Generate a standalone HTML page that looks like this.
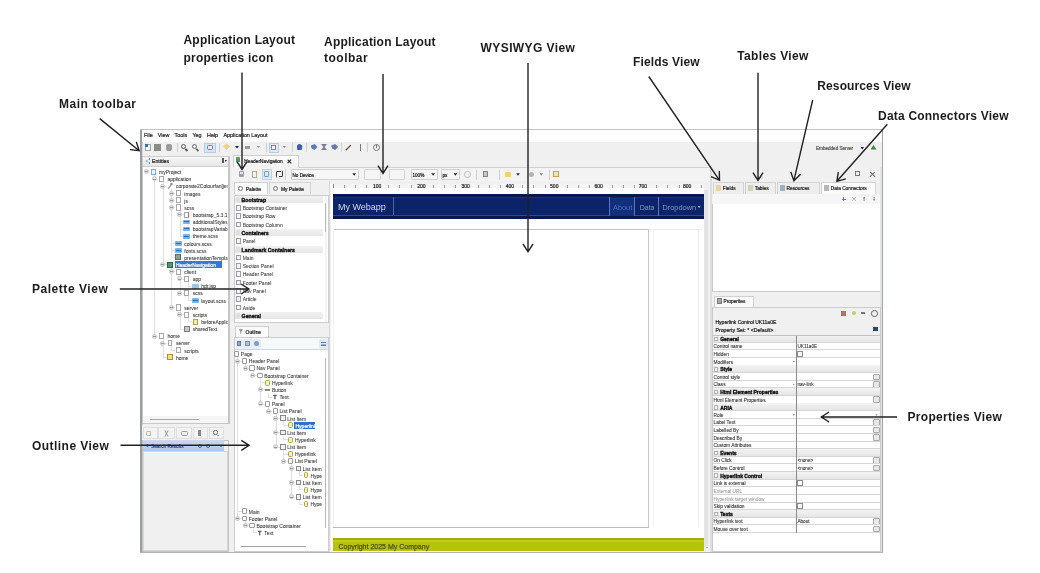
<!DOCTYPE html>
<html><head><meta charset="utf-8"><style>
html,body{margin:0;padding:0}
body{width:1040px;height:573px;background:#fff;position:relative;overflow:hidden;font-family:"Liberation Sans",sans-serif}
.t{position:absolute;white-space:nowrap;line-height:1}
.lab{position:absolute;white-space:nowrap;line-height:1;font-weight:bold;color:#1c1c1c;filter:blur(0.25px)}
</style></head><body>
<div style="position:absolute;left:0;top:0;width:1040px;height:573px;filter:blur(0.3px)">
<div style="position:absolute;left:140px;top:129px;width:743px;height:424px;background:#f0f0f0"></div>
<div style="position:absolute;left:139.8px;top:129px;width:1.8px;height:424px;background:#9a9ea3"></div>
<div style="position:absolute;left:141.6px;top:130px;width:1.2px;height:422px;background:#d6d9dd"></div>
<div style="position:absolute;left:140px;top:129px;width:743px;height:1px;background:#c4c4c4"></div>
<div style="position:absolute;left:882.4px;top:129px;width:1.1px;height:424px;background:#a4a4a4"></div>
<div style="position:absolute;left:140px;top:551.5px;width:743px;height:1.5px;background:#b4b4b4"></div>
<div style="position:absolute;left:141.6px;top:130px;width:740.8px;height:11.8px;background:#fefefe"></div>
<div class="t" style="left:144px;top:133px;font-size:5.4px;color:#242424;-webkit-text-stroke:0.2px currentColor;">File</div>
<div class="t" style="left:157.8px;top:133px;font-size:5.4px;color:#242424;-webkit-text-stroke:0.2px currentColor;">View</div>
<div class="t" style="left:174.5px;top:133px;font-size:5.4px;color:#242424;-webkit-text-stroke:0.2px currentColor;">Tools</div>
<div class="t" style="left:192.5px;top:133px;font-size:5.4px;color:#242424;-webkit-text-stroke:0.2px currentColor;">Yeg</div>
<div class="t" style="left:207px;top:133px;font-size:5.4px;color:#242424;-webkit-text-stroke:0.2px currentColor;">Help</div>
<div class="t" style="left:223.5px;top:133px;font-size:5.4px;color:#242424;-webkit-text-stroke:0.2px currentColor;">Application Layout</div>
<div style="position:absolute;left:144.5px;top:143.5px;width:6px;height:7px;background:#fff;border:0.8px solid #9aa;box-sizing:border-box"></div>
<div style="position:absolute;left:144.5px;top:143.5px;width:3px;height:3px;background:#3d6fb5;"></div>
<div style="position:absolute;left:154px;top:144px;width:6.5px;height:6.5px;background:#8a8c88;"></div>
<div style="position:absolute;left:165.5px;top:144px;width:6.5px;height:6.5px;background:#9a9a9a;border-radius:2px"></div>
<div style="position:absolute;left:176.5px;top:143px;width:0.8px;height:9px;background:#d0d0d0"></div>
<div style="position:absolute;left:181px;top:143.6px;width:5.2px;height:5.2px;background:transparent;border:1.4px solid #555;border-radius:50%;box-sizing:border-box"></div>
<div style="position:absolute;left:185px;top:148.6px;width:3px;height:1.6px;background:#555;transform:rotate(45deg)"></div>
<div style="position:absolute;left:192px;top:143.6px;width:5.2px;height:5.2px;background:transparent;border:1.4px solid #666;border-radius:50%;box-sizing:border-box"></div>
<div style="position:absolute;left:196px;top:148.6px;width:3px;height:1.6px;background:#666;transform:rotate(45deg)"></div>
<div style="position:absolute;left:203.5px;top:142.5px;width:12.5px;height:10px;background:#d6e6f7;border:0.8px solid #b5cde8;box-sizing:border-box"></div>
<div style="position:absolute;left:207.3px;top:144.6px;width:5.6px;height:5.2px;background:#e4eefa;border:1.3px solid #4f86c8;border-radius:1.5px;box-sizing:border-box"></div>
<div style="position:absolute;left:219px;top:143px;width:0.8px;height:9px;background:#d0d0d0"></div>
<div style="position:absolute;left:224px;top:144.2px;width:5.2px;height:5.2px;background:#ecd38a;transform:rotate(45deg)"></div>
<div style="position:absolute;left:235px;top:146px;width:4px;height:2.5px;background:#1a1a5a;clip-path:polygon(0 0,100% 0,50% 100%)"></div>
<div style="position:absolute;left:245px;top:146px;width:5px;height:2.5px;background:#999;"></div>
<div style="position:absolute;left:256.5px;top:146px;width:3.5px;height:2px;background:#999;clip-path:polygon(0 0,100% 0,50% 100%)"></div>
<div style="position:absolute;left:266.4px;top:143px;width:0.8px;height:9px;background:#d0d0d0"></div>
<div style="position:absolute;left:268.5px;top:142.5px;width:10px;height:10px;background:#dde9f7;border:0.8px solid #b5cde8;box-sizing:border-box"></div>
<div style="position:absolute;left:271px;top:144.5px;width:5px;height:5.5px;background:#fff;border:1px solid #5a8fd0;box-sizing:border-box"></div>
<div style="position:absolute;left:282.5px;top:146px;width:3.5px;height:2px;background:#888;clip-path:polygon(0 0,100% 0,50% 100%)"></div>
<div style="position:absolute;left:292px;top:143px;width:0.8px;height:9px;background:#d0d0d0"></div>
<div style="position:absolute;left:296.5px;top:143.5px;width:6px;height:6.5px;background:#3a5ea8;clip-path:polygon(50% 0,100% 40%,85% 100%,15% 100%,0 40%)"></div>
<div style="position:absolute;left:306px;top:143px;width:0.8px;height:9px;background:#d0d0d0"></div>
<div style="position:absolute;left:310.5px;top:144px;width:7px;height:6px;background:#5c7ab5;clip-path:polygon(0 30%,60% 0,100% 50%,60% 100%,20% 80%)"></div>
<div style="position:absolute;left:321px;top:144px;width:6px;height:6px;background:#7a7f90;clip-path:polygon(0 0,100% 0,60% 50%,100% 100%,0 100%,40% 50%)"></div>
<div style="position:absolute;left:331px;top:144px;width:7px;height:6px;background:#5c7ab5;clip-path:polygon(0 30%,60% 0,100% 50%,60% 100%,20% 80%)"></div>
<div style="position:absolute;left:341px;top:143px;width:0.8px;height:9px;background:#d0d0d0"></div>
<div style="position:absolute;left:345px;top:147px;width:7px;height:1.4px;background:#333;transform:rotate(-45deg)"></div>
<div style="position:absolute;left:359.5px;top:143.5px;width:1.3px;height:7px;background:#777"></div>
<div style="position:absolute;left:367.4px;top:143px;width:0.8px;height:9px;background:#d0d0d0"></div>
<div style="position:absolute;left:372.5px;top:143.5px;width:7px;height:7px;background:transparent;border:1.2px solid #777;border-radius:50%;box-sizing:border-box"></div>
<div style="position:absolute;left:375.6px;top:145.3px;width:0.9px;height:2.5px;background:#777"></div>
<div class="t" style="left:816px;top:147px;font-size:4.6px;color:#555;-webkit-text-stroke:0.2px currentColor;">Embedded Server</div>
<div style="position:absolute;left:860.5px;top:147px;width:3.5px;height:2.5px;background:#1a1a5a;clip-path:polygon(0 0,100% 0,50% 100%)"></div>
<div style="position:absolute;left:870.5px;top:145px;width:6px;height:4.5px;background:#3c8a3c;clip-path:polygon(0 100%,50% 0,100% 100%)"></div>
<div style="position:absolute;left:142.3px;top:155.5px;width:86.6px;height:11.5px;background:linear-gradient(#f7f7f7,#e6e6e6);border:1px solid #cfcfcf;box-sizing:border-box"></div>
<div style="position:absolute;left:145.3px;top:158.6px;width:5px;height:4.8px;background:#4a86d0;clip-path:polygon(100% 0,0 50%,100% 100%,75% 100%,30% 50%,75% 0)"></div>
<div style="position:absolute;left:148.6px;top:158.2px;width:1.8px;height:1.8px;background:#4a86d0;border-radius:50%"></div>
<div style="position:absolute;left:148.6px;top:162px;width:1.8px;height:1.8px;background:#4a86d0;border-radius:50%"></div>
<div class="t" style="left:152px;top:159px;font-size:5.2px;color:#1a1a1a;-webkit-text-stroke:0.2px currentColor;">Entities</div>
<div style="position:absolute;left:221.5px;top:158px;width:2.5px;height:5px;background:#555;"></div>
<div style="position:absolute;left:224.5px;top:160px;width:2.5px;height:2px;background:#333;clip-path:polygon(0 0,100% 0,50% 100%)"></div>
<div style="position:absolute;left:142.3px;top:167px;width:86.6px;height:256.8px;background:#fff;border:1px solid #c8c8c8;border-top:none;box-sizing:border-box"></div>
<div style="position:absolute;left:228px;top:156px;width:1.5px;height:268px;background:#c6c6c6"></div>
<div style="position:absolute;left:143.3px;top:416.4px;width:84.7px;height:7px;background:#f6f6f6"></div>
<div style="position:absolute;left:150.3px;top:418.6px;width:49px;height:1.8px;background:#a9a9a9;border-radius:1px"></div>
<div style="position:absolute;left:0;top:0;width:1040px;height:573px;clip-path:inset(167px 812.5px 150px 143px)">
<div style="position:absolute;left:154.14999999999998px;top:174.8px;width:0.7px;height:161.21999999999997px;background:#e0e0e0"></div>
<div style="position:absolute;left:154.45px;top:178.64px;width:4.0px;height:0.7px;background:#e0e0e0"></div>
<div style="position:absolute;left:154.45px;top:335.71999999999997px;width:4.0px;height:0.7px;background:#e0e0e0"></div>
<div style="position:absolute;left:162.6px;top:181.94px;width:0.7px;height:82.68px;background:#e0e0e0"></div>
<div style="position:absolute;left:162.9px;top:185.78px;width:4.0px;height:0.7px;background:#e0e0e0"></div>
<div style="position:absolute;left:162.9px;top:264.32px;width:4.0px;height:0.7px;background:#e0e0e0"></div>
<div style="position:absolute;left:171.04999999999998px;top:189.08px;width:0.7px;height:68.4px;background:#e0e0e0"></div>
<div style="position:absolute;left:171.35px;top:192.92px;width:4.0px;height:0.7px;background:#e0e0e0"></div>
<div style="position:absolute;left:171.35px;top:200.06px;width:4.0px;height:0.7px;background:#e0e0e0"></div>
<div style="position:absolute;left:171.35px;top:207.2px;width:4.0px;height:0.7px;background:#e0e0e0"></div>
<div style="position:absolute;left:171.35px;top:242.89999999999998px;width:4.0px;height:0.7px;background:#e0e0e0"></div>
<div style="position:absolute;left:171.35px;top:250.04px;width:4.0px;height:0.7px;background:#e0e0e0"></div>
<div style="position:absolute;left:171.35px;top:257.18px;width:4.0px;height:0.7px;background:#e0e0e0"></div>
<div style="position:absolute;left:179.5px;top:210.5px;width:0.7px;height:25.560000000000002px;background:#e0e0e0"></div>
<div style="position:absolute;left:179.8px;top:214.34px;width:4.0px;height:0.7px;background:#e0e0e0"></div>
<div style="position:absolute;left:179.8px;top:221.48px;width:4.0px;height:0.7px;background:#e0e0e0"></div>
<div style="position:absolute;left:179.8px;top:228.62px;width:4.0px;height:0.7px;background:#e0e0e0"></div>
<div style="position:absolute;left:179.8px;top:235.76px;width:4.0px;height:0.7px;background:#e0e0e0"></div>
<div style="position:absolute;left:171.04999999999998px;top:267.62px;width:0.7px;height:39.84000000000003px;background:#e0e0e0"></div>
<div style="position:absolute;left:171.35px;top:271.46px;width:4.0px;height:0.7px;background:#e0e0e0"></div>
<div style="position:absolute;left:171.35px;top:307.16px;width:4.0px;height:0.7px;background:#e0e0e0"></div>
<div style="position:absolute;left:179.5px;top:274.76px;width:0.7px;height:18.420000000000016px;background:#e0e0e0"></div>
<div style="position:absolute;left:179.8px;top:278.59999999999997px;width:4.0px;height:0.7px;background:#e0e0e0"></div>
<div style="position:absolute;left:179.8px;top:292.88px;width:4.0px;height:0.7px;background:#e0e0e0"></div>
<div style="position:absolute;left:187.95px;top:281.9px;width:0.7px;height:4.140000000000043px;background:#e0e0e0"></div>
<div style="position:absolute;left:188.25px;top:285.74px;width:4.0px;height:0.7px;background:#e0e0e0"></div>
<div style="position:absolute;left:187.95px;top:296.18px;width:0.7px;height:4.139999999999986px;background:#e0e0e0"></div>
<div style="position:absolute;left:188.25px;top:300.02px;width:4.0px;height:0.7px;background:#e0e0e0"></div>
<div style="position:absolute;left:179.5px;top:310.46000000000004px;width:0.7px;height:18.41999999999996px;background:#e0e0e0"></div>
<div style="position:absolute;left:179.8px;top:314.3px;width:4.0px;height:0.7px;background:#e0e0e0"></div>
<div style="position:absolute;left:179.8px;top:328.58px;width:4.0px;height:0.7px;background:#e0e0e0"></div>
<div style="position:absolute;left:187.95px;top:317.6px;width:0.7px;height:4.139999999999986px;background:#e0e0e0"></div>
<div style="position:absolute;left:188.25px;top:321.44px;width:4.0px;height:0.7px;background:#e0e0e0"></div>
<div style="position:absolute;left:162.6px;top:339.02px;width:0.7px;height:18.420000000000016px;background:#e0e0e0"></div>
<div style="position:absolute;left:162.9px;top:342.85999999999996px;width:4.0px;height:0.7px;background:#e0e0e0"></div>
<div style="position:absolute;left:162.9px;top:357.14px;width:4.0px;height:0.7px;background:#e0e0e0"></div>
<div style="position:absolute;left:171.04999999999998px;top:346.15999999999997px;width:0.7px;height:4.140000000000043px;background:#e0e0e0"></div>
<div style="position:absolute;left:171.35px;top:350.0px;width:4.0px;height:0.7px;background:#e0e0e0"></div>
<div style="position:absolute;left:143.5px;top:169.3px;width:5px;height:5px;background:#e4e4e4;border:0.6px solid #c8c8c8;border-radius:50%;box-sizing:border-box"></div>
<div style="position:absolute;left:144.5px;top:171.45000000000002px;width:3px;height:0.7px;background:#9a9a9a"></div>
<div style="position:absolute;left:150.5px;top:168.60000000000002px;width:5px;height:6.4px;background:#eef3fb;border:0.8px solid #8aa8d0;box-sizing:border-box"></div>
<div class="t" style="left:159.0px;top:170px;font-size:5.0px;color:#333;-webkit-text-stroke:0.2px currentColor;-webkit-text-stroke:0.06px currentColor">myProject</div>
<div style="position:absolute;left:151.95px;top:176.44px;width:5px;height:5px;background:#e4e4e4;border:0.6px solid #c8c8c8;border-radius:50%;box-sizing:border-box"></div>
<div style="position:absolute;left:152.95px;top:178.59px;width:3px;height:0.7px;background:#9a9a9a"></div>
<div style="position:absolute;left:159.04999999999998px;top:175.84px;width:4.8px;height:6.2px;background:#fff;border:0.8px solid #a8a8a8;box-sizing:border-box"></div>
<div class="t" style="left:167.45px;top:177px;font-size:5.0px;color:#333;-webkit-text-stroke:0.2px currentColor;-webkit-text-stroke:0.06px currentColor">application</div>
<div style="position:absolute;left:160.4px;top:183.58px;width:5px;height:5px;background:#e4e4e4;border:0.6px solid #c8c8c8;border-radius:50%;box-sizing:border-box"></div>
<div style="position:absolute;left:161.4px;top:185.73000000000002px;width:3px;height:0.7px;background:#9a9a9a"></div>
<div style="position:absolute;left:167.1px;top:185.58px;width:6px;height:1.1px;background:#888;transform:rotate(-50deg)"></div>
<div style="position:absolute;left:170.4px;top:182.88000000000002px;width:2.6px;height:2.6px;border:0.8px solid #888;border-radius:50%;box-sizing:border-box"></div>
<div class="t" style="left:175.9px;top:184px;font-size:5.0px;color:#333;-webkit-text-stroke:0.2px currentColor;-webkit-text-stroke:0.06px currentColor">corporate2Colourfan[jes..</div>
<div style="position:absolute;left:168.85px;top:190.72px;width:5px;height:5px;background:#e4e4e4;border:0.6px solid #c8c8c8;border-radius:50%;box-sizing:border-box"></div>
<div style="position:absolute;left:169.85px;top:192.87px;width:3px;height:0.7px;background:#9a9a9a"></div>
<div style="position:absolute;left:175.95px;top:190.12px;width:4.8px;height:6.2px;background:#fff;border:0.8px solid #a8a8a8;box-sizing:border-box"></div>
<div class="t" style="left:184.35px;top:192px;font-size:5.0px;color:#333;-webkit-text-stroke:0.2px currentColor;-webkit-text-stroke:0.06px currentColor">images</div>
<div style="position:absolute;left:168.85px;top:197.86px;width:5px;height:5px;background:#e4e4e4;border:0.6px solid #c8c8c8;border-radius:50%;box-sizing:border-box"></div>
<div style="position:absolute;left:169.85px;top:200.01000000000002px;width:3px;height:0.7px;background:#9a9a9a"></div>
<div style="position:absolute;left:175.95px;top:197.26000000000002px;width:4.8px;height:6.2px;background:#fff;border:0.8px solid #a8a8a8;box-sizing:border-box"></div>
<div class="t" style="left:184.35px;top:199px;font-size:5.0px;color:#333;-webkit-text-stroke:0.2px currentColor;-webkit-text-stroke:0.06px currentColor">js</div>
<div style="position:absolute;left:168.85px;top:205.0px;width:5px;height:5px;background:#e4e4e4;border:0.6px solid #c8c8c8;border-radius:50%;box-sizing:border-box"></div>
<div style="position:absolute;left:169.85px;top:207.15px;width:3px;height:0.7px;background:#9a9a9a"></div>
<div style="position:absolute;left:175.95px;top:204.4px;width:4.8px;height:6.2px;background:#fff;border:0.8px solid #a8a8a8;box-sizing:border-box"></div>
<div class="t" style="left:184.35px;top:206px;font-size:5.0px;color:#333;-webkit-text-stroke:0.2px currentColor;-webkit-text-stroke:0.06px currentColor">scss</div>
<div style="position:absolute;left:177.3px;top:212.14000000000001px;width:5px;height:5px;background:#e4e4e4;border:0.6px solid #c8c8c8;border-radius:50%;box-sizing:border-box"></div>
<div style="position:absolute;left:178.3px;top:214.29000000000002px;width:3px;height:0.7px;background:#9a9a9a"></div>
<div style="position:absolute;left:184.4px;top:211.54000000000002px;width:4.8px;height:6.2px;background:#fff;border:0.8px solid #a8a8a8;box-sizing:border-box;border-right-color:#d06060"></div>
<div class="t" style="left:192.8px;top:213px;font-size:5.0px;color:#333;-webkit-text-stroke:0.2px currentColor;-webkit-text-stroke:0.06px currentColor">bootstrap_5.3.1</div>
<div style="position:absolute;left:183.3px;top:219.78px;width:7px;height:4.5px;background:#7ab3e6;border-radius:1px"></div>
<div style="position:absolute;left:184.3px;top:221.28px;width:5px;height:1px;background:#2a6bb5"></div>
<div class="t" style="left:192.8px;top:220px;font-size:5.0px;color:#333;-webkit-text-stroke:0.2px currentColor;-webkit-text-stroke:0.06px currentColor">additionalStyles_</div>
<div style="position:absolute;left:183.3px;top:226.92000000000002px;width:7px;height:4.5px;background:#7ab3e6;border-radius:1px"></div>
<div style="position:absolute;left:184.3px;top:228.42000000000002px;width:5px;height:1px;background:#2a6bb5"></div>
<div class="t" style="left:192.8px;top:227px;font-size:5.0px;color:#333;-webkit-text-stroke:0.2px currentColor;-webkit-text-stroke:0.06px currentColor">bootstrapVariabl</div>
<div style="position:absolute;left:183.3px;top:234.06px;width:7px;height:4.5px;background:#7ab3e6;border-radius:1px"></div>
<div style="position:absolute;left:184.3px;top:235.56px;width:5px;height:1px;background:#2a6bb5"></div>
<div class="t" style="left:192.8px;top:234px;font-size:5.0px;color:#333;-webkit-text-stroke:0.2px currentColor;-webkit-text-stroke:0.06px currentColor">theme.scss</div>
<div style="position:absolute;left:174.85px;top:241.2px;width:7px;height:4.5px;background:#7ab3e6;border-radius:1px"></div>
<div style="position:absolute;left:175.85px;top:242.7px;width:5px;height:1px;background:#2a6bb5"></div>
<div class="t" style="left:184.35px;top:242px;font-size:5.0px;color:#333;-webkit-text-stroke:0.2px currentColor;-webkit-text-stroke:0.06px currentColor">colours.scss</div>
<div style="position:absolute;left:174.85px;top:248.34px;width:7px;height:4.5px;background:#7ab3e6;border-radius:1px"></div>
<div style="position:absolute;left:175.85px;top:249.84px;width:5px;height:1px;background:#2a6bb5"></div>
<div class="t" style="left:184.35px;top:249px;font-size:5.0px;color:#333;-webkit-text-stroke:0.2px currentColor;-webkit-text-stroke:0.06px currentColor">fonts.scss</div>
<div style="position:absolute;left:175.35px;top:254.48000000000002px;width:6px;height:6px;background:#8aa08a;border:0.8px solid #607060;box-sizing:border-box"></div>
<div class="t" style="left:184.35px;top:256px;font-size:5.0px;color:#333;-webkit-text-stroke:0.2px currentColor;-webkit-text-stroke:0.06px currentColor">presentationTemplate</div>
<div style="position:absolute;left:160.4px;top:262.12px;width:5px;height:5px;background:#e4e4e4;border:0.6px solid #c8c8c8;border-radius:50%;box-sizing:border-box"></div>
<div style="position:absolute;left:161.4px;top:264.27px;width:3px;height:0.7px;background:#9a9a9a"></div>
<div style="position:absolute;left:166.9px;top:261.62px;width:6px;height:6px;background:#4f9a6a;border:0.8px solid #2f6a45;box-sizing:border-box"></div>
<div style="position:absolute;left:175.3px;top:261.42px;width:46.5px;height:6.4px;background:#3379d6"></div>
<div class="t" style="left:175.9px;top:263px;font-size:5.0px;color:#fff;-webkit-text-stroke:0.2px currentColor;">HeaderNavigation</div>
<div style="position:absolute;left:168.85px;top:269.26px;width:5px;height:5px;background:#e4e4e4;border:0.6px solid #c8c8c8;border-radius:50%;box-sizing:border-box"></div>
<div style="position:absolute;left:169.85px;top:271.40999999999997px;width:3px;height:0.7px;background:#9a9a9a"></div>
<div style="position:absolute;left:175.95px;top:268.65999999999997px;width:4.8px;height:6.2px;background:#fff;border:0.8px solid #a8a8a8;box-sizing:border-box"></div>
<div class="t" style="left:184.35px;top:270px;font-size:5.0px;color:#333;-webkit-text-stroke:0.2px currentColor;-webkit-text-stroke:0.06px currentColor">client</div>
<div style="position:absolute;left:177.3px;top:276.4px;width:5px;height:5px;background:#e4e4e4;border:0.6px solid #c8c8c8;border-radius:50%;box-sizing:border-box"></div>
<div style="position:absolute;left:178.3px;top:278.54999999999995px;width:3px;height:0.7px;background:#9a9a9a"></div>
<div style="position:absolute;left:184.4px;top:275.79999999999995px;width:4.8px;height:6.2px;background:#fff;border:0.8px solid #a8a8a8;box-sizing:border-box"></div>
<div class="t" style="left:192.8px;top:277px;font-size:5.0px;color:#333;-webkit-text-stroke:0.2px currentColor;-webkit-text-stroke:0.06px currentColor">app</div>
<div style="position:absolute;left:192.25px;top:284.04px;width:6.5px;height:4.5px;background:#9cc5ea;border-radius:1px"></div>
<div class="t" style="left:201.25px;top:284px;font-size:5.0px;color:#333;-webkit-text-stroke:0.2px currentColor;-webkit-text-stroke:0.06px currentColor">hdr.jsp</div>
<div style="position:absolute;left:177.3px;top:290.68px;width:5px;height:5px;background:#e4e4e4;border:0.6px solid #c8c8c8;border-radius:50%;box-sizing:border-box"></div>
<div style="position:absolute;left:178.3px;top:292.83px;width:3px;height:0.7px;background:#9a9a9a"></div>
<div style="position:absolute;left:184.4px;top:290.08px;width:4.8px;height:6.2px;background:#fff;border:0.8px solid #a8a8a8;box-sizing:border-box"></div>
<div class="t" style="left:192.8px;top:291px;font-size:5.0px;color:#333;-webkit-text-stroke:0.2px currentColor;-webkit-text-stroke:0.06px currentColor">scss</div>
<div style="position:absolute;left:191.75px;top:298.32px;width:7px;height:4.5px;background:#7ab3e6;border-radius:1px"></div>
<div style="position:absolute;left:192.75px;top:299.82px;width:5px;height:1px;background:#2a6bb5"></div>
<div class="t" style="left:201.25px;top:299px;font-size:5.0px;color:#333;-webkit-text-stroke:0.2px currentColor;-webkit-text-stroke:0.06px currentColor">layout.scss</div>
<div style="position:absolute;left:168.85px;top:304.96000000000004px;width:5px;height:5px;background:#e4e4e4;border:0.6px solid #c8c8c8;border-radius:50%;box-sizing:border-box"></div>
<div style="position:absolute;left:169.85px;top:307.11px;width:3px;height:0.7px;background:#9a9a9a"></div>
<div style="position:absolute;left:175.95px;top:304.36px;width:4.8px;height:6.2px;background:#fff;border:0.8px solid #a8a8a8;box-sizing:border-box"></div>
<div class="t" style="left:184.35px;top:306px;font-size:5.0px;color:#333;-webkit-text-stroke:0.2px currentColor;-webkit-text-stroke:0.06px currentColor">server</div>
<div style="position:absolute;left:177.3px;top:312.1px;width:5px;height:5px;background:#e4e4e4;border:0.6px solid #c8c8c8;border-radius:50%;box-sizing:border-box"></div>
<div style="position:absolute;left:178.3px;top:314.25px;width:3px;height:0.7px;background:#9a9a9a"></div>
<div style="position:absolute;left:184.4px;top:311.5px;width:4.8px;height:6.2px;background:#fff;border:0.8px solid #a8a8a8;box-sizing:border-box"></div>
<div class="t" style="left:192.8px;top:313px;font-size:5.0px;color:#333;-webkit-text-stroke:0.2px currentColor;-webkit-text-stroke:0.06px currentColor">scripts</div>
<div style="position:absolute;left:192.75px;top:318.74px;width:5px;height:6px;background:#f1e9b9;border:0.8px solid #b0a050;box-sizing:border-box"></div>
<div class="t" style="left:201.25px;top:320px;font-size:5.0px;color:#333;-webkit-text-stroke:0.2px currentColor;-webkit-text-stroke:0.06px currentColor">beforeApplic</div>
<div style="position:absolute;left:183.8px;top:325.88px;width:6px;height:6px;background:#c9c9c9;border:0.8px solid #7a7a7a;box-sizing:border-box"></div>
<div class="t" style="left:192.8px;top:327px;font-size:5.0px;color:#333;-webkit-text-stroke:0.2px currentColor;-webkit-text-stroke:0.06px currentColor">sharedText</div>
<div style="position:absolute;left:151.95px;top:333.52px;width:5px;height:5px;background:#e4e4e4;border:0.6px solid #c8c8c8;border-radius:50%;box-sizing:border-box"></div>
<div style="position:absolute;left:152.95px;top:335.66999999999996px;width:3px;height:0.7px;background:#9a9a9a"></div>
<div style="position:absolute;left:159.04999999999998px;top:332.91999999999996px;width:4.8px;height:6.2px;background:#fff;border:0.8px solid #a8a8a8;box-sizing:border-box"></div>
<div class="t" style="left:167.45px;top:334px;font-size:5.0px;color:#333;-webkit-text-stroke:0.2px currentColor;-webkit-text-stroke:0.06px currentColor">home</div>
<div style="position:absolute;left:160.4px;top:340.65999999999997px;width:5px;height:5px;background:#e4e4e4;border:0.6px solid #c8c8c8;border-radius:50%;box-sizing:border-box"></div>
<div style="position:absolute;left:161.4px;top:342.80999999999995px;width:3px;height:0.7px;background:#9a9a9a"></div>
<div style="position:absolute;left:167.5px;top:340.05999999999995px;width:4.8px;height:6.2px;background:#fff;border:0.8px solid #a8a8a8;box-sizing:border-box"></div>
<div class="t" style="left:175.9px;top:341px;font-size:5.0px;color:#333;-webkit-text-stroke:0.2px currentColor;-webkit-text-stroke:0.06px currentColor">server</div>
<div style="position:absolute;left:175.95px;top:347.2px;width:4.8px;height:6.2px;background:#fff;border:0.8px solid #a8a8a8;box-sizing:border-box"></div>
<div class="t" style="left:184.35px;top:349px;font-size:5.0px;color:#333;-webkit-text-stroke:0.2px currentColor;-webkit-text-stroke:0.06px currentColor">scripts</div>
<div style="position:absolute;left:166.9px;top:354.44px;width:6px;height:6px;background:#f4d9a0;border:0.8px solid #c08a30;box-sizing:border-box"></div>
<div class="t" style="left:175.9px;top:356px;font-size:5.0px;color:#333;-webkit-text-stroke:0.2px currentColor;-webkit-text-stroke:0.06px currentColor">home</div>
</div>
<div style="position:absolute;left:142.3px;top:425.5px;width:86.6px;height:14px;background:#f0f0f0"></div>
<div style="position:absolute;left:143px;top:427px;width:14.599999999999994px;height:11.8px;background:#f3f3f3;border:0.6px solid #dedede;box-sizing:border-box"></div>
<div style="position:absolute;left:158.4px;top:427px;width:17.0px;height:11.8px;background:#f3f3f3;border:0.6px solid #dedede;box-sizing:border-box"></div>
<div style="position:absolute;left:176.2px;top:427px;width:15.700000000000017px;height:11.8px;background:#f3f3f3;border:0.6px solid #dedede;box-sizing:border-box"></div>
<div style="position:absolute;left:192.7px;top:427px;width:15.600000000000023px;height:11.8px;background:#f3f3f3;border:0.6px solid #dedede;box-sizing:border-box"></div>
<div style="position:absolute;left:209.1px;top:427px;width:15.200000000000017px;height:11.8px;background:#f3f3f3;border:0.6px solid #dedede;box-sizing:border-box"></div>
<div style="position:absolute;left:146px;top:430.5px;width:4.5px;height:5.5px;border:0.8px solid #c8b9a0;border-radius:1px;box-sizing:border-box"></div>
<div style="position:absolute;left:165.8px;top:429.8px;width:0.9px;height:7px;background:#999;transform:rotate(28deg)"></div>
<div style="position:absolute;left:165.8px;top:429.8px;width:0.9px;height:7px;background:#999;transform:rotate(-28deg)"></div>
<div style="position:absolute;left:180.5px;top:431px;width:7.5px;height:4.5px;border:1px solid #999;border-radius:1.5px;box-sizing:border-box"></div>
<div style="position:absolute;left:198px;top:430px;width:3px;height:6px;background:#888"></div>
<div style="position:absolute;left:213px;top:430.2px;width:4.5px;height:4.5px;border:1.1px solid #777;border-radius:50%;box-sizing:border-box"></div>
<div style="position:absolute;left:216.7px;top:434.5px;width:2.2px;height:1.1px;background:#777;transform:rotate(45deg)"></div>
<div style="position:absolute;left:142.3px;top:439.5px;width:86.6px;height:112px;background:#f0f0f0;border:1px solid #c4c4c4;box-sizing:border-box"></div>
<div style="position:absolute;left:143.3px;top:440.3px;width:81px;height:10.8px;background:linear-gradient(#cbd9ee,#b2c6e2)"></div>
<div class="t" style="left:151px;top:445px;font-size:4.8px;color:#3a4a6a;-webkit-text-stroke:0.2px currentColor;">Search Results</div>
<div style="position:absolute;left:145.5px;top:443.8px;width:3.5px;height:3.5px;background:transparent;border:0.9px solid #557;border-radius:50%;box-sizing:border-box"></div>
<div style="position:absolute;left:197.5px;top:443.5px;width:4.5px;height:4.5px;background:transparent;border:1px solid #667;border-radius:50%;box-sizing:border-box"></div>
<div style="position:absolute;left:205.5px;top:443.5px;width:4.5px;height:4.5px;background:transparent;border:1px solid #667;border-radius:50%;box-sizing:border-box"></div>
<div style="position:absolute;left:219.5px;top:445px;width:3px;height:2px;background:#445;clip-path:polygon(0 0,100% 0,50% 100%)"></div>
<div style="position:absolute;left:143.3px;top:451px;width:85px;height:100px;background:#f0f0f0;border:0.6px solid #d6d6d6;box-sizing:border-box"></div>
<div style="position:absolute;left:232.5px;top:154.8px;width:66.3px;height:12.5px;background:linear-gradient(#fdfdfd,#f3f3f3);border:0.8px solid #cfcfcf;border-bottom:none;box-sizing:border-box"></div>
<div style="position:absolute;left:235.6px;top:157.2px;width:4.8px;height:5.2px;background:#4f9a70;border-top:1.8px solid #6f8fc4;box-sizing:border-box"></div>
<div class="t" style="left:244.3px;top:160px;font-size:4.8px;color:#1a1a1a;-webkit-text-stroke:0.2px currentColor;">HeaderNavigation</div>
<div style="position:absolute;left:286.6px;top:160.5px;width:4.6px;height:1.3px;background:#222;transform:rotate(45deg)"></div>
<div style="position:absolute;left:286.6px;top:160.5px;width:4.6px;height:1.3px;background:#222;transform:rotate(-45deg)"></div>
<div style="position:absolute;left:231.5px;top:167px;width:479.5px;height:14px;background:#f3f3f3"></div>
<div style="position:absolute;left:298.8px;top:166.6px;width:583px;height:0.8px;background:#d2d2d2"></div>
<div style="position:absolute;left:238.7px;top:171.3px;width:5.6px;height:5.6px;background:#9aa0aa;border-radius:1px"></div>
<div style="position:absolute;left:239.6px;top:172.2px;width:3.8px;height:2px;background:#dfe3ea"></div>
<div style="position:absolute;left:252px;top:171px;width:4.5px;height:6.5px;border:0.8px solid #aaa;box-sizing:border-box"></div>
<div style="position:absolute;left:261.5px;top:169.2px;width:10px;height:10.5px;background:#dde8f5;border:0.6px solid #c0d2ea;box-sizing:border-box"></div>
<div style="position:absolute;left:264px;top:171.3px;width:5px;height:6px;border:0.9px solid #7a9ccc;border-radius:1px;box-sizing:border-box"></div>
<div style="position:absolute;left:276.3px;top:171.2px;width:6.6px;height:5.8px;border:1.3px solid #3a3a3a;border-radius:1px;box-sizing:border-box"></div>
<div style="position:absolute;left:280.5px;top:170.6px;width:1.6px;height:1.6px;background:#f3f3f3"></div>
<div style="position:absolute;left:277px;top:176.4px;width:1.6px;height:1.6px;background:#f3f3f3"></div>
<div style="position:absolute;left:281.6px;top:170.4px;width:1.8px;height:1.8px;background:#3a3a3a;clip-path:polygon(0 0,100% 50%,0 100%)"></div>
<div style="position:absolute;left:275.6px;top:176px;width:1.8px;height:1.8px;background:#3a3a3a;clip-path:polygon(100% 0,0 50%,100% 100%)"></div>
<div style="position:absolute;left:284.5px;top:169px;width:0.7px;height:11px;background:#d5d5d5"></div>
<div style="position:absolute;left:290.6px;top:169px;width:68.2px;height:11px;background:#f7f7f7;border:0.7px solid #cfcfcf;border-radius:1px;box-sizing:border-box"></div>
<div class="t" style="left:292.5px;top:174px;font-size:4.6px;color:#1a1a1a;-webkit-text-stroke:0.2px currentColor;">No Device</div>
<div style="position:absolute;left:352.3px;top:173.3px;width:3.8px;height:2.4px;background:#1d1d3a;clip-path:polygon(0 0,100% 0,50% 100%)"></div>
<div style="position:absolute;left:363.7px;top:169px;width:17.3px;height:11px;background:#f5f5f5;border:0.7px solid #d5d5d5;border-radius:1px;box-sizing:border-box"></div>
<div style="position:absolute;left:388.7px;top:169px;width:16.3px;height:11px;background:#f5f5f5;border:0.7px solid #d5d5d5;border-radius:1px;box-sizing:border-box"></div>
<div style="position:absolute;left:410.8px;top:169px;width:26.9px;height:11px;background:#f7f7f7;border:0.7px solid #cfcfcf;border-radius:1px;box-sizing:border-box"></div>
<div class="t" style="left:412.5px;top:174px;font-size:4.6px;color:#1a1a1a;-webkit-text-stroke:0.2px currentColor;">100%</div>
<div style="position:absolute;left:431.3px;top:173.3px;width:3.8px;height:2.4px;background:#1d1d3a;clip-path:polygon(0 0,100% 0,50% 100%)"></div>
<div style="position:absolute;left:441px;top:169px;width:18.8px;height:11px;background:#f7f7f7;border:0.7px solid #cfcfcf;border-radius:1px;box-sizing:border-box"></div>
<div class="t" style="left:442.5px;top:174px;font-size:4.6px;color:#1a1a1a;-webkit-text-stroke:0.2px currentColor;">px</div>
<div style="position:absolute;left:453.5px;top:173.3px;width:3.8px;height:2.4px;background:#1d1d3a;clip-path:polygon(0 0,100% 0,50% 100%)"></div>
<div style="position:absolute;left:464.3px;top:171.3px;width:6.4px;height:6.4px;border:1px solid #c4c4c4;border-radius:50%;box-sizing:border-box"></div>
<div style="position:absolute;left:476px;top:169.5px;width:0.7px;height:10px;background:#d0d0d0"></div>
<div style="position:absolute;left:483px;top:171.2px;width:4.5px;height:6.3px;background:#c8c8c8;border:0.7px solid #888;box-sizing:border-box"></div>
<div style="position:absolute;left:498.6px;top:169.5px;width:0.7px;height:10px;background:#d0d0d0"></div>
<div style="position:absolute;left:504.5px;top:171.5px;width:6.5px;height:5px;background:#f2d36a;border-radius:1px"></div>
<div style="position:absolute;left:516.3px;top:173.3px;width:3.5px;height:2.4px;background:#1d1d5a;clip-path:polygon(0 0,100% 0,50% 100%)"></div>
<div style="position:absolute;left:528.5px;top:171.5px;width:5px;height:5px;background:#b4b4b4;border-radius:50%"></div>
<div style="position:absolute;left:539.5px;top:173.3px;width:3.5px;height:2.4px;background:#888;clip-path:polygon(0 0,100% 0,50% 100%)"></div>
<div style="position:absolute;left:549.4px;top:169.5px;width:0.7px;height:10px;background:#d0d0d0"></div>
<div style="position:absolute;left:552.5px;top:171px;width:6px;height:6px;background:#f7e3b0;border:0.8px solid #c9a050;border-top-width:1.6px;box-sizing:border-box"></div>
<div style="position:absolute;left:231.5px;top:181px;width:98px;height:141.5px;background:#f0f0f0"></div>
<div style="position:absolute;left:233.8px;top:182.2px;width:34px;height:12.3px;background:#fbfbfb;border:0.7px solid #d0d0d0;border-bottom:none;box-sizing:border-box"></div>
<div style="position:absolute;left:268.8px;top:182.2px;width:42.4px;height:12.3px;background:#f1f1f1;border:0.7px solid #d6d6d6;border-bottom:none;box-sizing:border-box"></div>
<div style="position:absolute;left:237.6px;top:185.6px;width:5px;height:5px;border:1.2px solid #777;border-radius:50%;box-sizing:border-box"></div>
<div class="t" style="left:245.8px;top:188px;font-size:4.9px;color:#1a1a1a;-webkit-text-stroke:0.2px currentColor;">Palette</div>
<div style="position:absolute;left:273px;top:185.6px;width:5px;height:5px;border:1.2px solid #777;border-radius:50%;box-sizing:border-box"></div>
<div class="t" style="left:280.9px;top:188px;font-size:4.9px;color:#1a1a1a;-webkit-text-stroke:0.2px currentColor;">My Palette</div>
<div style="position:absolute;left:233.8px;top:194.5px;width:95.2px;height:128px;background:#fff;border:0.8px solid #cdcdcd;box-sizing:border-box"></div>
<div style="position:absolute;left:234.6px;top:195.9px;width:88.5px;height:7.2px;background:linear-gradient(#f2f2f2,#e6e6e6)"></div>
<div style="position:absolute;left:236px;top:197.0px;width:4px;height:5px;background:#e0e0e0"></div>
<div class="t" style="left:241.6px;top:198px;font-size:5.2px;color:#111;-webkit-text-stroke:0.35px currentColor;font-weight:bold">Bootstrap</div>
<div style="position:absolute;left:236.2px;top:205.0px;width:5px;height:5.6px;background:#f4f4f8;border:0.8px solid #9a9ab0;box-sizing:border-box"></div>
<div class="t" style="left:242.7px;top:206px;font-size:5.0px;color:#3a3a3a;-webkit-text-stroke:0.2px currentColor;-webkit-text-stroke:0.06px currentColor">Bootstrap Container</div>
<div style="position:absolute;left:236.2px;top:213.29999999999998px;width:5px;height:5.6px;background:#f4f4f8;border:0.8px solid #9a9ab0;box-sizing:border-box"></div>
<div class="t" style="left:242.7px;top:214px;font-size:5.0px;color:#3a3a3a;-webkit-text-stroke:0.2px currentColor;-webkit-text-stroke:0.06px currentColor">Bootstrap Row</div>
<div style="position:absolute;left:236.2px;top:221.6px;width:5px;height:5.6px;background:#f4f4f8;border:0.8px solid #9a9ab0;box-sizing:border-box"></div>
<div class="t" style="left:242.7px;top:223px;font-size:5.0px;color:#3a3a3a;-webkit-text-stroke:0.2px currentColor;-webkit-text-stroke:0.06px currentColor">Bootstrap Column</div>
<div style="position:absolute;left:234.6px;top:229.1px;width:88.5px;height:7.2px;background:linear-gradient(#f2f2f2,#e6e6e6)"></div>
<div style="position:absolute;left:236px;top:230.2px;width:4px;height:5px;background:#e0e0e0"></div>
<div class="t" style="left:241.6px;top:231px;font-size:5.2px;color:#111;-webkit-text-stroke:0.35px currentColor;font-weight:bold">Containers</div>
<div style="position:absolute;left:236.2px;top:238.2px;width:5px;height:5.6px;background:#f4f4f8;border:0.8px solid #9a9ab0;box-sizing:border-box"></div>
<div class="t" style="left:242.7px;top:239px;font-size:5.0px;color:#3a3a3a;-webkit-text-stroke:0.2px currentColor;-webkit-text-stroke:0.06px currentColor">Panel</div>
<div style="position:absolute;left:234.6px;top:245.70000000000002px;width:88.5px;height:7.2px;background:linear-gradient(#f2f2f2,#e6e6e6)"></div>
<div style="position:absolute;left:236px;top:246.8px;width:4px;height:5px;background:#e0e0e0"></div>
<div class="t" style="left:241.6px;top:248px;font-size:5.2px;color:#111;-webkit-text-stroke:0.35px currentColor;font-weight:bold">Landmark Containers</div>
<div style="position:absolute;left:236.2px;top:254.8px;width:5px;height:5.6px;background:#f4f4f8;border:0.8px solid #9a9ab0;box-sizing:border-box"></div>
<div class="t" style="left:242.7px;top:256px;font-size:5.0px;color:#3a3a3a;-webkit-text-stroke:0.2px currentColor;-webkit-text-stroke:0.06px currentColor">Main</div>
<div style="position:absolute;left:236.2px;top:263.09999999999997px;width:5px;height:5.6px;background:#f4f4f8;border:0.8px solid #9a9ab0;box-sizing:border-box"></div>
<div class="t" style="left:242.7px;top:264px;font-size:5.0px;color:#3a3a3a;-webkit-text-stroke:0.2px currentColor;-webkit-text-stroke:0.06px currentColor">Section Panel</div>
<div style="position:absolute;left:236.2px;top:271.4px;width:5px;height:5.6px;background:#f4f4f8;border:0.8px solid #9a9ab0;box-sizing:border-box"></div>
<div class="t" style="left:242.7px;top:272px;font-size:5.0px;color:#3a3a3a;-webkit-text-stroke:0.2px currentColor;-webkit-text-stroke:0.06px currentColor">Header Panel</div>
<div style="position:absolute;left:236.2px;top:279.7px;width:5px;height:5.6px;background:#f4f4f8;border:0.8px solid #9a9ab0;box-sizing:border-box"></div>
<div class="t" style="left:242.7px;top:281px;font-size:5.0px;color:#3a3a3a;-webkit-text-stroke:0.2px currentColor;-webkit-text-stroke:0.06px currentColor">Footer Panel</div>
<div style="position:absolute;left:236.2px;top:288.0px;width:5px;height:5.6px;background:#f4f4f8;border:0.8px solid #9a9ab0;box-sizing:border-box"></div>
<div class="t" style="left:242.7px;top:289px;font-size:5.0px;color:#3a3a3a;-webkit-text-stroke:0.2px currentColor;-webkit-text-stroke:0.06px currentColor">Nav Panel</div>
<div style="position:absolute;left:236.2px;top:296.3px;width:5px;height:5.6px;background:#f4f4f8;border:0.8px solid #9a9ab0;box-sizing:border-box"></div>
<div class="t" style="left:242.7px;top:297px;font-size:5.0px;color:#3a3a3a;-webkit-text-stroke:0.2px currentColor;-webkit-text-stroke:0.06px currentColor">Article</div>
<div style="position:absolute;left:236.2px;top:304.59999999999997px;width:5px;height:5.6px;background:#f4f4f8;border:0.8px solid #9a9ab0;box-sizing:border-box"></div>
<div class="t" style="left:242.7px;top:306px;font-size:5.0px;color:#3a3a3a;-webkit-text-stroke:0.2px currentColor;-webkit-text-stroke:0.06px currentColor">Aside</div>
<div style="position:absolute;left:234.6px;top:312.1px;width:88.5px;height:7.2px;background:linear-gradient(#f2f2f2,#e6e6e6)"></div>
<div style="position:absolute;left:236px;top:313.20000000000005px;width:4px;height:5px;background:#e0e0e0"></div>
<div class="t" style="left:241.6px;top:314px;font-size:5.2px;color:#111;-webkit-text-stroke:0.35px currentColor;font-weight:bold">General</div>
<div style="position:absolute;left:324.5px;top:196px;width:2px;height:126px;background:#f4f4f4"></div>
<div style="position:absolute;left:324.7px;top:202.6px;width:1.4px;height:29.4px;background:#b8b8b8;border-radius:1px"></div>
<div style="position:absolute;left:234.8px;top:325.9px;width:34px;height:11.8px;background:#fbfbfb;border:0.7px solid #d0d0d0;border-bottom:none;box-sizing:border-box"></div>
<div style="position:absolute;left:238.8px;top:329.3px;width:4.2px;height:4.8px;background:#8a8a94;clip-path:polygon(0 0,100% 0,60% 50%,60% 100%,40% 100%,40% 50%)"></div>
<div class="t" style="left:245.6px;top:331px;font-size:4.9px;color:#1a1a1a;-webkit-text-stroke:0.2px currentColor;">Outline</div>
<div style="position:absolute;left:233.8px;top:337.4px;width:95.2px;height:214.2px;background:#fff;border:0.8px solid #cdcdcd;box-sizing:border-box"></div>
<div style="position:absolute;left:234.6px;top:338.2px;width:93.6px;height:11.3px;background:#f7f8fa"></div>
<div style="position:absolute;left:235.5px;top:339px;width:25px;height:10px;background:#e6eef8;border-radius:2px"></div>
<div style="position:absolute;left:318.5px;top:338.6px;width:9px;height:10.6px;background:#dfe9f6;border-radius:2px"></div>
<div style="position:absolute;left:234.6px;top:349.2px;width:93.6px;height:0.7px;background:#cfd6e0"></div>
<div style="position:absolute;left:236.7px;top:341.3px;width:4.5px;height:5px;background:#98a8c0;border:0.6px solid #6a7a98;box-sizing:border-box"></div>
<div style="position:absolute;left:245.2px;top:341.3px;width:4.5px;height:5px;background:#b4c0d0;border:0.6px solid #7a8aa0;box-sizing:border-box"></div>
<div style="position:absolute;left:254.3px;top:341.2px;width:5px;height:5px;background:#7f9cc4;border-radius:50%"></div>
<div style="position:absolute;left:320.5px;top:341.5px;width:5.5px;height:4.5px;background:#5a7fb5;clip-path:polygon(0 0,100% 0,100% 35%,0 35%,0 65%,100% 65%,100% 100%,0 100%)"></div>
<div style="position:absolute;left:237.2px;top:356.9px;width:0.7px;height:161.45000000000005px;background:#e0e0e0"></div>
<div style="position:absolute;left:237.5px;top:360.74999999999994px;width:4.0px;height:0.7px;background:#e0e0e0"></div>
<div style="position:absolute;left:237.5px;top:510.9px;width:4.0px;height:0.7px;background:#e0e0e0"></div>
<div style="position:absolute;left:237.5px;top:518.0500000000001px;width:4.0px;height:0.7px;background:#e0e0e0"></div>
<div style="position:absolute;left:244.9px;top:364.04999999999995px;width:0.7px;height:4.150000000000034px;background:#e0e0e0"></div>
<div style="position:absolute;left:245.20000000000002px;top:367.9px;width:4.0px;height:0.7px;background:#e0e0e0"></div>
<div style="position:absolute;left:252.60000000000002px;top:371.2px;width:0.7px;height:4.149999999999977px;background:#e0e0e0"></div>
<div style="position:absolute;left:252.90000000000003px;top:375.04999999999995px;width:4.0px;height:0.7px;background:#e0e0e0"></div>
<div style="position:absolute;left:260.3px;top:378.34999999999997px;width:0.7px;height:25.600000000000023px;background:#e0e0e0"></div>
<div style="position:absolute;left:260.6px;top:382.2px;width:4.0px;height:0.7px;background:#e0e0e0"></div>
<div style="position:absolute;left:260.6px;top:389.34999999999997px;width:4.0px;height:0.7px;background:#e0e0e0"></div>
<div style="position:absolute;left:260.6px;top:403.65px;width:4.0px;height:0.7px;background:#e0e0e0"></div>
<div style="position:absolute;left:268.0px;top:392.65px;width:0.7px;height:4.149999999999977px;background:#e0e0e0"></div>
<div style="position:absolute;left:268.3px;top:396.49999999999994px;width:4.0px;height:0.7px;background:#e0e0e0"></div>
<div style="position:absolute;left:268.0px;top:406.95px;width:0.7px;height:4.149999999999977px;background:#e0e0e0"></div>
<div style="position:absolute;left:268.3px;top:410.79999999999995px;width:4.0px;height:0.7px;background:#e0e0e0"></div>
<div style="position:absolute;left:275.7px;top:414.09999999999997px;width:0.7px;height:32.75px;background:#e0e0e0"></div>
<div style="position:absolute;left:276.0px;top:417.95px;width:4.0px;height:0.7px;background:#e0e0e0"></div>
<div style="position:absolute;left:276.0px;top:432.24999999999994px;width:4.0px;height:0.7px;background:#e0e0e0"></div>
<div style="position:absolute;left:276.0px;top:446.54999999999995px;width:4.0px;height:0.7px;background:#e0e0e0"></div>
<div style="position:absolute;left:283.4px;top:421.25px;width:0.7px;height:4.149999999999977px;background:#e0e0e0"></div>
<div style="position:absolute;left:283.7px;top:425.09999999999997px;width:4.0px;height:0.7px;background:#e0e0e0"></div>
<div style="position:absolute;left:283.4px;top:435.54999999999995px;width:0.7px;height:4.150000000000034px;background:#e0e0e0"></div>
<div style="position:absolute;left:283.7px;top:439.4px;width:4.0px;height:0.7px;background:#e0e0e0"></div>
<div style="position:absolute;left:283.4px;top:449.84999999999997px;width:0.7px;height:11.300000000000011px;background:#e0e0e0"></div>
<div style="position:absolute;left:283.7px;top:453.7px;width:4.0px;height:0.7px;background:#e0e0e0"></div>
<div style="position:absolute;left:283.7px;top:460.84999999999997px;width:4.0px;height:0.7px;background:#e0e0e0"></div>
<div style="position:absolute;left:291.1px;top:464.15px;width:0.7px;height:32.75px;background:#e0e0e0"></div>
<div style="position:absolute;left:291.40000000000003px;top:467.99999999999994px;width:4.0px;height:0.7px;background:#e0e0e0"></div>
<div style="position:absolute;left:291.40000000000003px;top:482.3px;width:4.0px;height:0.7px;background:#e0e0e0"></div>
<div style="position:absolute;left:291.40000000000003px;top:496.59999999999997px;width:4.0px;height:0.7px;background:#e0e0e0"></div>
<div style="position:absolute;left:298.8px;top:471.29999999999995px;width:0.7px;height:4.150000000000034px;background:#e0e0e0"></div>
<div style="position:absolute;left:299.1px;top:475.15px;width:4.0px;height:0.7px;background:#e0e0e0"></div>
<div style="position:absolute;left:298.8px;top:485.6px;width:0.7px;height:4.149999999999977px;background:#e0e0e0"></div>
<div style="position:absolute;left:299.1px;top:489.45px;width:4.0px;height:0.7px;background:#e0e0e0"></div>
<div style="position:absolute;left:298.8px;top:499.9px;width:0.7px;height:4.149999999999977px;background:#e0e0e0"></div>
<div style="position:absolute;left:299.1px;top:503.74999999999994px;width:4.0px;height:0.7px;background:#e0e0e0"></div>
<div style="position:absolute;left:244.9px;top:521.35px;width:0.7px;height:4.149999999999977px;background:#e0e0e0"></div>
<div style="position:absolute;left:245.20000000000002px;top:525.2px;width:4.0px;height:0.7px;background:#e0e0e0"></div>
<div style="position:absolute;left:252.60000000000002px;top:528.5px;width:0.7px;height:4.149999999999977px;background:#e0e0e0"></div>
<div style="position:absolute;left:252.90000000000003px;top:532.35px;width:4.0px;height:0.7px;background:#e0e0e0"></div>
<div style="position:absolute;left:233.7px;top:351.09999999999997px;width:5.6px;height:5.6px;background:#fff;border:0.7px solid #999;border-radius:1px;box-sizing:border-box"></div>
<div class="t" style="left:240.8px;top:352px;font-size:5.0px;color:#333;-webkit-text-stroke:0.2px currentColor;-webkit-text-stroke:0.06px currentColor">Page</div>
<div style="position:absolute;left:234.8px;top:358.54999999999995px;width:5px;height:5px;background:#e4e4e4;border:0.6px solid #c8c8c8;border-radius:50%;box-sizing:border-box"></div>
<div style="position:absolute;left:235.8px;top:360.69999999999993px;width:3px;height:0.7px;background:#9a9a9a"></div>
<div style="position:absolute;left:241.7px;top:358.24999999999994px;width:5.6px;height:5.6px;background:#fff;border:0.7px solid #999;border-radius:1px;box-sizing:border-box"></div>
<div class="t" style="left:248.8px;top:359px;font-size:5.0px;color:#333;-webkit-text-stroke:0.2px currentColor;-webkit-text-stroke:0.06px currentColor">Header Panel</div>
<div style="position:absolute;left:242.50000000000003px;top:365.7px;width:5px;height:5px;background:#e4e4e4;border:0.6px solid #c8c8c8;border-radius:50%;box-sizing:border-box"></div>
<div style="position:absolute;left:243.50000000000003px;top:367.84999999999997px;width:3px;height:0.7px;background:#9a9a9a"></div>
<div style="position:absolute;left:249.4px;top:365.4px;width:5.6px;height:5.6px;background:#fff;border:0.7px solid #999;border-radius:1px;box-sizing:border-box"></div>
<div class="t" style="left:256.5px;top:366px;font-size:5.0px;color:#333;-webkit-text-stroke:0.2px currentColor;-webkit-text-stroke:0.06px currentColor">Nav Panel</div>
<div style="position:absolute;left:250.20000000000005px;top:372.84999999999997px;width:5px;height:5px;background:#e4e4e4;border:0.6px solid #c8c8c8;border-radius:50%;box-sizing:border-box"></div>
<div style="position:absolute;left:251.20000000000005px;top:374.99999999999994px;width:3px;height:0.7px;background:#9a9a9a"></div>
<div style="position:absolute;left:257.1px;top:372.54999999999995px;width:5.6px;height:5.6px;background:#fff;border:0.7px solid #999;border-radius:1px;box-sizing:border-box"></div>
<div class="t" style="left:264.20000000000005px;top:374px;font-size:5.0px;color:#333;-webkit-text-stroke:0.2px currentColor;-webkit-text-stroke:0.06px currentColor">Bootstrap Container</div>
<div style="position:absolute;left:265.3px;top:379.5px;width:4.6px;height:6px;background:#f0f0c0;border:0.7px solid #a8a840;border-radius:1.5px;box-sizing:border-box"></div>
<div class="t" style="left:271.90000000000003px;top:381px;font-size:5.0px;color:#333;-webkit-text-stroke:0.2px currentColor;-webkit-text-stroke:0.06px currentColor">Hyperlink</div>
<div style="position:absolute;left:257.90000000000003px;top:387.15px;width:5px;height:5px;background:#e4e4e4;border:0.6px solid #c8c8c8;border-radius:50%;box-sizing:border-box"></div>
<div style="position:absolute;left:258.90000000000003px;top:389.29999999999995px;width:3px;height:0.7px;background:#9a9a9a"></div>
<div style="position:absolute;left:265.1px;top:388.65px;width:5px;height:2px;background:#888"></div>
<div class="t" style="left:271.90000000000003px;top:388px;font-size:5.0px;color:#333;-webkit-text-stroke:0.2px currentColor;-webkit-text-stroke:0.06px currentColor">Button</div>
<div class="t" style="left:273.3px;top:395px;font-size:5.5px;color:#555;-webkit-text-stroke:0.35px currentColor;font-weight:bold">T</div>
<div class="t" style="left:279.6px;top:395px;font-size:5.0px;color:#333;-webkit-text-stroke:0.2px currentColor;-webkit-text-stroke:0.06px currentColor">Text</div>
<div style="position:absolute;left:257.90000000000003px;top:401.45px;width:5px;height:5px;background:#e4e4e4;border:0.6px solid #c8c8c8;border-radius:50%;box-sizing:border-box"></div>
<div style="position:absolute;left:258.90000000000003px;top:403.59999999999997px;width:3px;height:0.7px;background:#9a9a9a"></div>
<div style="position:absolute;left:264.8px;top:401.15px;width:5.6px;height:5.6px;background:#fff;border:0.7px solid #999;border-radius:1px;box-sizing:border-box"></div>
<div class="t" style="left:271.90000000000003px;top:402px;font-size:5.0px;color:#333;-webkit-text-stroke:0.2px currentColor;-webkit-text-stroke:0.06px currentColor">Panel</div>
<div style="position:absolute;left:265.6px;top:408.59999999999997px;width:5px;height:5px;background:#e4e4e4;border:0.6px solid #c8c8c8;border-radius:50%;box-sizing:border-box"></div>
<div style="position:absolute;left:266.6px;top:410.74999999999994px;width:3px;height:0.7px;background:#9a9a9a"></div>
<div style="position:absolute;left:272.5px;top:408.29999999999995px;width:5.6px;height:5.6px;background:#fff;border:0.7px solid #999;border-radius:1px;box-sizing:border-box"></div>
<div class="t" style="left:279.6px;top:409px;font-size:5.0px;color:#333;-webkit-text-stroke:0.2px currentColor;-webkit-text-stroke:0.06px currentColor">List Panel</div>
<div style="position:absolute;left:273.3px;top:415.75px;width:5px;height:5px;background:#e4e4e4;border:0.6px solid #c8c8c8;border-radius:50%;box-sizing:border-box"></div>
<div style="position:absolute;left:274.3px;top:417.9px;width:3px;height:0.7px;background:#9a9a9a"></div>
<div style="position:absolute;left:280.2px;top:415.45px;width:5.6px;height:5.6px;background:#f2f2f2;border:0.7px solid #888;box-sizing:border-box"></div>
<div class="t" style="left:287.3px;top:417px;font-size:5.0px;color:#333;-webkit-text-stroke:0.2px currentColor;-webkit-text-stroke:0.06px currentColor">List Item</div>
<div style="position:absolute;left:288.4px;top:422.4px;width:4.6px;height:6px;background:#f0f0c0;border:0.7px solid #a8a840;border-radius:1.5px;box-sizing:border-box"></div>
<div style="position:absolute;left:294.4px;top:422.2px;width:21px;height:6.4px;background:#2f6fd0"></div>
<div class="t" style="left:295.5px;top:424px;font-size:5.0px;color:#fff;-webkit-text-stroke:0.2px currentColor;">Hyperlink</div>
<div style="position:absolute;left:273.3px;top:430.04999999999995px;width:5px;height:5px;background:#e4e4e4;border:0.6px solid #c8c8c8;border-radius:50%;box-sizing:border-box"></div>
<div style="position:absolute;left:274.3px;top:432.19999999999993px;width:3px;height:0.7px;background:#9a9a9a"></div>
<div style="position:absolute;left:280.2px;top:429.74999999999994px;width:5.6px;height:5.6px;background:#f2f2f2;border:0.7px solid #888;box-sizing:border-box"></div>
<div class="t" style="left:287.3px;top:431px;font-size:5.0px;color:#333;-webkit-text-stroke:0.2px currentColor;-webkit-text-stroke:0.06px currentColor">List Item</div>
<div style="position:absolute;left:288.4px;top:436.7px;width:4.6px;height:6px;background:#f0f0c0;border:0.7px solid #a8a840;border-radius:1.5px;box-sizing:border-box"></div>
<div class="t" style="left:295.0px;top:438px;font-size:5.0px;color:#333;-webkit-text-stroke:0.2px currentColor;-webkit-text-stroke:0.06px currentColor">Hyperlink</div>
<div style="position:absolute;left:273.3px;top:444.34999999999997px;width:5px;height:5px;background:#e4e4e4;border:0.6px solid #c8c8c8;border-radius:50%;box-sizing:border-box"></div>
<div style="position:absolute;left:274.3px;top:446.49999999999994px;width:3px;height:0.7px;background:#9a9a9a"></div>
<div style="position:absolute;left:280.2px;top:444.04999999999995px;width:5.6px;height:5.6px;background:#f2f2f2;border:0.7px solid #888;box-sizing:border-box"></div>
<div class="t" style="left:287.3px;top:445px;font-size:5.0px;color:#333;-webkit-text-stroke:0.2px currentColor;-webkit-text-stroke:0.06px currentColor">List Item</div>
<div style="position:absolute;left:288.4px;top:451.0px;width:4.6px;height:6px;background:#f0f0c0;border:0.7px solid #a8a840;border-radius:1.5px;box-sizing:border-box"></div>
<div class="t" style="left:295.0px;top:452px;font-size:5.0px;color:#333;-webkit-text-stroke:0.2px currentColor;-webkit-text-stroke:0.06px currentColor">Hyperlink</div>
<div style="position:absolute;left:281.0px;top:458.65px;width:5px;height:5px;background:#e4e4e4;border:0.6px solid #c8c8c8;border-radius:50%;box-sizing:border-box"></div>
<div style="position:absolute;left:282.0px;top:460.79999999999995px;width:3px;height:0.7px;background:#9a9a9a"></div>
<div style="position:absolute;left:287.9px;top:458.34999999999997px;width:5.6px;height:5.6px;background:#fff;border:0.7px solid #999;border-radius:1px;box-sizing:border-box"></div>
<div class="t" style="left:295.0px;top:459px;font-size:5.0px;color:#333;-webkit-text-stroke:0.2px currentColor;-webkit-text-stroke:0.06px currentColor">List Panel</div>
<div style="position:absolute;left:288.70000000000005px;top:465.79999999999995px;width:5px;height:5px;background:#e4e4e4;border:0.6px solid #c8c8c8;border-radius:50%;box-sizing:border-box"></div>
<div style="position:absolute;left:289.70000000000005px;top:467.94999999999993px;width:3px;height:0.7px;background:#9a9a9a"></div>
<div style="position:absolute;left:295.6px;top:465.49999999999994px;width:5.6px;height:5.6px;background:#f2f2f2;border:0.7px solid #888;box-sizing:border-box"></div>
<div class="t" style="left:302.70000000000005px;top:467px;font-size:5.0px;color:#333;-webkit-text-stroke:0.2px currentColor;-webkit-text-stroke:0.06px currentColor">List Item</div>
<div style="position:absolute;left:303.8px;top:472.45px;width:4.6px;height:6px;background:#f0f0c0;border:0.7px solid #a8a840;border-radius:1.5px;box-sizing:border-box"></div>
<div class="t" style="left:310.40000000000003px;top:474px;font-size:5.0px;color:#333;-webkit-text-stroke:0.2px currentColor;-webkit-text-stroke:0.06px currentColor">Hyper</div>
<div style="position:absolute;left:288.70000000000005px;top:480.1px;width:5px;height:5px;background:#e4e4e4;border:0.6px solid #c8c8c8;border-radius:50%;box-sizing:border-box"></div>
<div style="position:absolute;left:289.70000000000005px;top:482.25px;width:3px;height:0.7px;background:#9a9a9a"></div>
<div style="position:absolute;left:295.6px;top:479.8px;width:5.6px;height:5.6px;background:#f2f2f2;border:0.7px solid #888;box-sizing:border-box"></div>
<div class="t" style="left:302.70000000000005px;top:481px;font-size:5.0px;color:#333;-webkit-text-stroke:0.2px currentColor;-webkit-text-stroke:0.06px currentColor">List Item</div>
<div style="position:absolute;left:303.8px;top:486.75px;width:4.6px;height:6px;background:#f0f0c0;border:0.7px solid #a8a840;border-radius:1.5px;box-sizing:border-box"></div>
<div class="t" style="left:310.40000000000003px;top:488px;font-size:5.0px;color:#333;-webkit-text-stroke:0.2px currentColor;-webkit-text-stroke:0.06px currentColor">Hyper</div>
<div style="position:absolute;left:288.70000000000005px;top:494.4px;width:5px;height:5px;background:#e4e4e4;border:0.6px solid #c8c8c8;border-radius:50%;box-sizing:border-box"></div>
<div style="position:absolute;left:289.70000000000005px;top:496.54999999999995px;width:3px;height:0.7px;background:#9a9a9a"></div>
<div style="position:absolute;left:295.6px;top:494.09999999999997px;width:5.6px;height:5.6px;background:#f2f2f2;border:0.7px solid #888;box-sizing:border-box"></div>
<div class="t" style="left:302.70000000000005px;top:495px;font-size:5.0px;color:#333;-webkit-text-stroke:0.2px currentColor;-webkit-text-stroke:0.06px currentColor">List Item</div>
<div style="position:absolute;left:303.8px;top:501.04999999999995px;width:4.6px;height:6px;background:#f0f0c0;border:0.7px solid #a8a840;border-radius:1.5px;box-sizing:border-box"></div>
<div class="t" style="left:310.40000000000003px;top:502px;font-size:5.0px;color:#333;-webkit-text-stroke:0.2px currentColor;-webkit-text-stroke:0.06px currentColor">Hyper</div>
<div style="position:absolute;left:241.7px;top:508.4px;width:5.6px;height:5.6px;background:#fff;border:0.7px solid #999;border-radius:1px;box-sizing:border-box"></div>
<div class="t" style="left:248.8px;top:510px;font-size:5.0px;color:#333;-webkit-text-stroke:0.2px currentColor;-webkit-text-stroke:0.06px currentColor">Main</div>
<div style="position:absolute;left:234.8px;top:515.85px;width:5px;height:5px;background:#e4e4e4;border:0.6px solid #c8c8c8;border-radius:50%;box-sizing:border-box"></div>
<div style="position:absolute;left:235.8px;top:518.0px;width:3px;height:0.7px;background:#9a9a9a"></div>
<div style="position:absolute;left:241.7px;top:515.5500000000001px;width:5.6px;height:5.6px;background:#fff;border:0.7px solid #999;border-radius:1px;box-sizing:border-box"></div>
<div class="t" style="left:248.8px;top:517px;font-size:5.0px;color:#333;-webkit-text-stroke:0.2px currentColor;-webkit-text-stroke:0.06px currentColor">Footer Panel</div>
<div style="position:absolute;left:242.50000000000003px;top:523.0px;width:5px;height:5px;background:#e4e4e4;border:0.6px solid #c8c8c8;border-radius:50%;box-sizing:border-box"></div>
<div style="position:absolute;left:243.50000000000003px;top:525.15px;width:3px;height:0.7px;background:#9a9a9a"></div>
<div style="position:absolute;left:249.4px;top:522.7px;width:5.6px;height:5.6px;background:#fff;border:0.7px solid #999;border-radius:1px;box-sizing:border-box"></div>
<div class="t" style="left:256.5px;top:524px;font-size:5.0px;color:#333;-webkit-text-stroke:0.2px currentColor;-webkit-text-stroke:0.06px currentColor">Bootstrap Container</div>
<div class="t" style="left:257.90000000000003px;top:531px;font-size:5.5px;color:#555;-webkit-text-stroke:0.35px currentColor;font-weight:bold">T</div>
<div class="t" style="left:264.20000000000005px;top:531px;font-size:5.0px;color:#333;-webkit-text-stroke:0.2px currentColor;-webkit-text-stroke:0.06px currentColor">Text</div>
<div style="position:absolute;left:324.6px;top:358px;width:1.5px;height:170px;background:#c4c4c4;border-radius:1px"></div>
<div style="position:absolute;left:241px;top:545.8px;width:65.4px;height:1.7px;background:#a0a0a0;border-radius:1px"></div>
<div style="position:absolute;left:322.3px;top:350px;width:6px;height:201px;background:#fff"></div>
<div style="position:absolute;left:324.6px;top:358px;width:1.5px;height:170px;background:#b5b5b5;border-radius:1px"></div>
<div style="position:absolute;left:329px;top:181px;width:1.1px;height:371px;background:#d9d9dd"></div>
<div style="position:absolute;left:330.5px;top:181px;width:373.5px;height:370.5px;background:#fff"></div>
<div style="position:absolute;left:330.5px;top:181px;width:373.5px;height:2.7px;background:#f0f0f0"></div>
<div style="position:absolute;left:332.5px;top:183.7px;width:371.5px;height:4.6px;background:#f4f4f4"></div>
<div style="position:absolute;left:332.5px;top:183.7px;width:0.8px;height:4.6px;background:#888"></div>
<div style="position:absolute;left:343.665px;top:184.8px;width:0.8px;height:2.8px;background:#9a9a9a"></div>
<div style="position:absolute;left:354.83px;top:184.8px;width:0.8px;height:2.8px;background:#9a9a9a"></div>
<div style="position:absolute;left:365.995px;top:184.8px;width:0.8px;height:2.8px;background:#9a9a9a"></div>
<div style="position:absolute;left:388.325px;top:184.8px;width:0.8px;height:2.8px;background:#9a9a9a"></div>
<div style="position:absolute;left:399.49px;top:184.8px;width:0.8px;height:2.8px;background:#9a9a9a"></div>
<div style="position:absolute;left:410.655px;top:184.8px;width:0.8px;height:2.8px;background:#9a9a9a"></div>
<div style="position:absolute;left:432.985px;top:184.8px;width:0.8px;height:2.8px;background:#9a9a9a"></div>
<div style="position:absolute;left:444.15px;top:184.8px;width:0.8px;height:2.8px;background:#9a9a9a"></div>
<div style="position:absolute;left:455.315px;top:184.8px;width:0.8px;height:2.8px;background:#9a9a9a"></div>
<div style="position:absolute;left:477.645px;top:184.8px;width:0.8px;height:2.8px;background:#9a9a9a"></div>
<div style="position:absolute;left:488.81px;top:184.8px;width:0.8px;height:2.8px;background:#9a9a9a"></div>
<div style="position:absolute;left:499.975px;top:184.8px;width:0.8px;height:2.8px;background:#9a9a9a"></div>
<div style="position:absolute;left:522.305px;top:184.8px;width:0.8px;height:2.8px;background:#9a9a9a"></div>
<div style="position:absolute;left:533.47px;top:184.8px;width:0.8px;height:2.8px;background:#9a9a9a"></div>
<div style="position:absolute;left:544.635px;top:184.8px;width:0.8px;height:2.8px;background:#9a9a9a"></div>
<div style="position:absolute;left:566.9649999999999px;top:184.8px;width:0.8px;height:2.8px;background:#9a9a9a"></div>
<div style="position:absolute;left:578.13px;top:184.8px;width:0.8px;height:2.8px;background:#9a9a9a"></div>
<div style="position:absolute;left:589.295px;top:184.8px;width:0.8px;height:2.8px;background:#9a9a9a"></div>
<div style="position:absolute;left:611.625px;top:184.8px;width:0.8px;height:2.8px;background:#9a9a9a"></div>
<div style="position:absolute;left:622.79px;top:184.8px;width:0.8px;height:2.8px;background:#9a9a9a"></div>
<div style="position:absolute;left:633.9549999999999px;top:184.8px;width:0.8px;height:2.8px;background:#9a9a9a"></div>
<div style="position:absolute;left:656.285px;top:184.8px;width:0.8px;height:2.8px;background:#9a9a9a"></div>
<div style="position:absolute;left:667.45px;top:184.8px;width:0.8px;height:2.8px;background:#9a9a9a"></div>
<div style="position:absolute;left:678.615px;top:184.8px;width:0.8px;height:2.8px;background:#9a9a9a"></div>
<div style="position:absolute;left:700.9449999999999px;top:184.8px;width:0.8px;height:2.8px;background:#9a9a9a"></div>
<div class="t" style="left:372.90000000000003px;top:184px;font-size:5.0px;color:#1a1a1a;-webkit-text-stroke:0.2px currentColor;">100</div>
<div class="t" style="left:417.20000000000005px;top:184px;font-size:5.0px;color:#1a1a1a;-webkit-text-stroke:0.2px currentColor;">200</div>
<div class="t" style="left:461.5px;top:184px;font-size:5.0px;color:#1a1a1a;-webkit-text-stroke:0.2px currentColor;">300</div>
<div class="t" style="left:505.8px;top:184px;font-size:5.0px;color:#1a1a1a;-webkit-text-stroke:0.2px currentColor;">400</div>
<div class="t" style="left:550.1px;top:184px;font-size:5.0px;color:#1a1a1a;-webkit-text-stroke:0.2px currentColor;">500</div>
<div class="t" style="left:594.4px;top:184px;font-size:5.0px;color:#1a1a1a;-webkit-text-stroke:0.2px currentColor;">600</div>
<div class="t" style="left:638.6999999999999px;top:184px;font-size:5.0px;color:#1a1a1a;-webkit-text-stroke:0.2px currentColor;">700</div>
<div class="t" style="left:683.0px;top:184px;font-size:5.0px;color:#1a1a1a;-webkit-text-stroke:0.2px currentColor;">800</div>
<div style="position:absolute;left:332.5px;top:193.8px;width:371.2px;height:25.1px;background:#07184f"></div>
<div style="position:absolute;left:332.5px;top:197.4px;width:371.2px;height:18px;background:#0b2368"></div>
<div style="position:absolute;left:332.5px;top:197.4px;width:371.2px;height:0.7px;background:#1a3578"></div>
<div style="position:absolute;left:332.5px;top:214.8px;width:371.2px;height:0.8px;background:#2e4890"></div>
<div style="position:absolute;left:392.6px;top:197.4px;width:0.8px;height:18px;background:#4a62a6"></div>
<div class="t" style="left:338px;top:203px;font-size:9.0px;color:#d0d8ee;">My Webapp</div>
<div style="position:absolute;left:609.3px;top:197.4px;width:26.1px;height:18.2px;background:#10307e;border-left:0.9px solid #5a78c0;border-right:0.9px solid #5a78c0;box-sizing:border-box"></div>
<div class="t" style="left:613.1px;top:204px;font-size:7.3px;color:#4d6db5;">About</div>
<div class="t" style="left:639.7px;top:204px;font-size:7.0px;color:#8596c6;">Data</div>
<div style="position:absolute;left:657.7px;top:197.4px;width:0.9px;height:18.2px;background:#5a78c0"></div>
<div class="t" style="left:662.4px;top:204px;font-size:7.4px;color:#8596c6;">Dropdown</div>
<div style="position:absolute;left:697.5px;top:206px;width:3.2px;height:2px;background:#a8b8de;clip-path:polygon(0 0,100% 0,50% 100%)"></div>
<div style="position:absolute;left:333px;top:228.5px;width:315.6px;height:0.9px;background:#c2c2c2"></div>
<div style="position:absolute;left:647.8px;top:228.5px;width:0.9px;height:299px;background:#c6c6c6"></div>
<div style="position:absolute;left:333px;top:526.6px;width:315.6px;height:0.9px;background:#bcbcbc"></div>
<div style="position:absolute;left:333px;top:229px;width:0.6px;height:298px;background:#f2f2f2"></div>
<div style="position:absolute;left:697.5px;top:229px;width:0.6px;height:298px;background:#eeeeee"></div>
<div style="position:absolute;left:648.5px;top:228.8px;width:53px;height:0.8px;background:#ececec"></div>
<div style="position:absolute;left:652.8px;top:229px;width:0.6px;height:298px;background:#f3f3f3"></div>
<div style="position:absolute;left:332.5px;top:537.7px;width:371.3px;height:13.6px;background:#b7c20c"></div>
<div style="position:absolute;left:332.5px;top:537.7px;width:371.3px;height:2.3px;background:#a4b000"></div>
<div style="position:absolute;left:332.5px;top:540px;width:371.3px;height:1.5px;background:#bfcb22"></div>
<div class="t" style="left:338.5px;top:543px;font-size:7.0px;color:#4d5608;-webkit-text-stroke:0.25px currentColor">Copyright 2025 My Company</div>
<div style="position:absolute;left:704px;top:181px;width:6.5px;height:371px;background:#f0f0f0"></div>
<div style="position:absolute;left:703.8px;top:190px;width:4.2px;height:357px;background:#e4e4e4"></div>
<div style="position:absolute;left:705.5px;top:546.5px;width:3px;height:2px;background:#aaa;clip-path:polygon(0 0,100% 0,50% 100%)"></div>
<div style="position:absolute;left:710.4px;top:167px;width:1.6px;height:385px;background:#dedede"></div>
<div style="position:absolute;left:711.6px;top:167px;width:170.4px;height:37px;background:#f0f0f0"></div>
<div style="position:absolute;left:854.5px;top:171.3px;width:5px;height:5px;border:1px solid #777;box-sizing:border-box"></div>
<div style="position:absolute;left:869.6px;top:171px;width:0.9px;height:6.5px;background:#666;transform:rotate(45deg);left:871.7px"></div>
<div style="position:absolute;left:869.6px;top:171px;width:0.9px;height:6.5px;background:#666;transform:rotate(-45deg);left:871.7px"></div>
<div style="position:absolute;left:712.8px;top:182px;width:31.0px;height:12px;background:#eeeeee;border:0.7px solid #d3d3d3;border-bottom:none;box-sizing:border-box"></div>
<div style="position:absolute;left:715.8px;top:185px;width:5px;height:6px;background:#e7c98a;opacity:0.7"></div>
<div class="t" style="left:722.8px;top:187px;font-size:4.8px;color:#1a1a1a;-webkit-text-stroke:0.2px currentColor;">Fields</div>
<div style="position:absolute;left:744.8px;top:182px;width:30.800000000000068px;height:12px;background:#eeeeee;border:0.7px solid #d3d3d3;border-bottom:none;box-sizing:border-box"></div>
<div style="position:absolute;left:747.8px;top:185px;width:5px;height:6px;background:#c8c8a0;opacity:0.7"></div>
<div class="t" style="left:754.8px;top:187px;font-size:4.8px;color:#1a1a1a;-webkit-text-stroke:0.2px currentColor;">Tables</div>
<div style="position:absolute;left:776.6px;top:182px;width:43.10000000000002px;height:12px;background:#eeeeee;border:0.7px solid #d3d3d3;border-bottom:none;box-sizing:border-box"></div>
<div style="position:absolute;left:779.6px;top:185px;width:5px;height:6px;background:#7a9ab0;opacity:0.7"></div>
<div class="t" style="left:786.6px;top:187px;font-size:4.8px;color:#1a1a1a;-webkit-text-stroke:0.2px currentColor;">Resources</div>
<div style="position:absolute;left:820.7px;top:182px;width:55.59999999999991px;height:12px;background:#fbfbfb;border:0.7px solid #d3d3d3;border-bottom:none;box-sizing:border-box"></div>
<div style="position:absolute;left:823.7px;top:185px;width:5px;height:6px;background:#999;opacity:0.7"></div>
<div class="t" style="left:830.7px;top:187px;font-size:4.8px;color:#1a1a1a;-webkit-text-stroke:0.2px currentColor;">Data Connectors</div>
<div style="position:absolute;left:712.8px;top:194px;width:168px;height:10px;background:#f6f6f6"></div>
<div style="position:absolute;left:842px;top:198.6px;width:3.5px;height:1.2px;background:#5a7ad0"></div>
<div style="position:absolute;left:843.15px;top:197.4px;width:1.2px;height:3.6px;background:#5a7ad0"></div>
<div style="position:absolute;left:852px;top:197px;width:4px;height:4px;background:linear-gradient(45deg,transparent 45%,#bbb 45%,#bbb 55%,transparent 55%),linear-gradient(-45deg,transparent 45%,#bbb 45%,#bbb 55%,transparent 55%)"></div>
<div style="position:absolute;left:863px;top:196.5px;width:2.2px;height:4.6px;background:#777;clip-path:polygon(50% 0,100% 40%,70% 40%,70% 100%,30% 100%,30% 40%,0 40%)"></div>
<div style="position:absolute;left:873px;top:196.5px;width:2.2px;height:4.6px;background:#777;clip-path:polygon(30% 0,70% 0,70% 60%,100% 60%,50% 100%,0 60%,30% 60%)"></div>
<div style="position:absolute;left:712.3px;top:203.5px;width:168.7px;height:0.9px;background:#bdbdbd"></div>
<div style="position:absolute;left:712.3px;top:204.4px;width:168.7px;height:88px;background:#fff;border:0.8px solid #cacaca;border-top:none;box-sizing:border-box"></div>
<div style="position:absolute;left:880.3px;top:167px;width:2.1px;height:385px;background:#e1e4e8"></div>
<div style="position:absolute;left:713.7px;top:295.6px;width:40.3px;height:11.2px;background:#fbfbfb;border:0.7px solid #d0d0d0;border-bottom:none;box-sizing:border-box"></div>
<div style="position:absolute;left:716.5px;top:298.3px;width:5px;height:5.5px;background:#aaa;border:0.7px solid #777;box-sizing:border-box"></div>
<div class="t" style="left:723.5px;top:300px;font-size:4.8px;color:#1a1a1a;-webkit-text-stroke:0.2px currentColor;">Properties</div>
<div style="position:absolute;left:712.3px;top:306.6px;width:168.7px;height:245px;background:#f0f0f0;border:0.7px solid #cacaca;box-sizing:border-box"></div>
<div style="position:absolute;left:841px;top:310.5px;width:5px;height:5px;background:#c86a6a;border:0.6px solid #884;box-sizing:border-box"></div>
<div style="position:absolute;left:851.5px;top:311px;width:4.8px;height:4.2px;background:#c8cf5a;border-radius:50%"></div>
<div style="position:absolute;left:860.5px;top:312.2px;width:4px;height:2px;background:#777"></div>
<div style="position:absolute;left:871.3px;top:310px;width:6.5px;height:6.5px;border:1.1px solid #666;border-radius:50%;box-sizing:border-box"></div>
<div class="t" style="left:715.5px;top:320px;font-size:5.0px;color:#1a1a1a;-webkit-text-stroke:0.2px currentColor;">Hyperlink Control UK11a0E</div>
<div class="t" style="left:715.5px;top:328px;font-size:5.2px;color:#1a1a1a;-webkit-text-stroke:0.2px currentColor;">Property Set: * &lt;Default&gt;</div>
<div style="position:absolute;left:873.3px;top:327.3px;width:4.5px;height:4.2px;background:#23496d"></div>
<div style="position:absolute;left:712.8px;top:335.0px;width:167.7px;height:215.5px;background:#fff"></div>
<div style="position:absolute;left:712.8px;top:335.0px;width:167.7px;height:7.61px;background:linear-gradient(#f3f3f3,#e3e3e3)"></div>
<div style="position:absolute;left:714px;top:336.505px;width:4.2px;height:4.6px;background:#fafafa;border:0.6px solid #b0b0b0;box-sizing:border-box"></div>
<div class="t" style="left:720.2px;top:337px;font-size:5.0px;color:#111;-webkit-text-stroke:0.35px currentColor;font-weight:bold">General</div>
<div style="position:absolute;left:712.8px;top:341.71000000000004px;width:167.7px;height:1px;background:#d6d6d6"></div>
<div class="t" style="left:713.6px;top:345px;font-size:4.8px;color:#2e2e2e;-webkit-text-stroke:0.2px currentColor;-webkit-text-stroke:0.08px currentColor">Control name</div>
<div class="t" style="left:797.4px;top:345px;font-size:4.7px;color:#2e2e2e;-webkit-text-stroke:0.2px currentColor;-webkit-text-stroke:0.08px currentColor">UK11a0E</div>
<div style="position:absolute;left:712.8px;top:349.32000000000005px;width:167.7px;height:1px;background:#d6d6d6"></div>
<div class="t" style="left:713.6px;top:353px;font-size:4.8px;color:#2e2e2e;-webkit-text-stroke:0.2px currentColor;-webkit-text-stroke:0.08px currentColor">Hidden</div>
<div style="position:absolute;left:797.4px;top:351.12500000000006px;width:5.4px;height:5.4px;background:#fff;border:0.8px solid #8a8a8a;border-radius:0.5px;box-sizing:border-box"></div>
<div style="position:absolute;left:712.8px;top:356.93000000000006px;width:167.7px;height:1px;background:#d6d6d6"></div>
<div class="t" style="left:713.6px;top:361px;font-size:4.8px;color:#2e2e2e;-webkit-text-stroke:0.2px currentColor;-webkit-text-stroke:0.08px currentColor">Modifiers</div>
<div style="position:absolute;left:792.5px;top:361.03499999999997px;width:2.4px;height:1.4px;background:#888;clip-path:polygon(0 0,100% 0,50% 100%)"></div>
<div style="position:absolute;left:712.8px;top:364.54px;width:167.7px;height:1px;background:#d6d6d6"></div>
<div style="position:absolute;left:712.8px;top:365.44px;width:167.7px;height:7.61px;background:linear-gradient(#f3f3f3,#e3e3e3)"></div>
<div style="position:absolute;left:714px;top:366.945px;width:4.2px;height:4.6px;background:#fafafa;border:0.6px solid #b0b0b0;box-sizing:border-box"></div>
<div class="t" style="left:720.2px;top:367px;font-size:5.0px;color:#111;-webkit-text-stroke:0.35px currentColor;font-weight:bold">Style</div>
<div style="position:absolute;left:712.8px;top:372.15000000000003px;width:167.7px;height:1px;background:#d6d6d6"></div>
<div class="t" style="left:713.6px;top:376px;font-size:4.8px;color:#2e2e2e;-webkit-text-stroke:0.2px currentColor;-webkit-text-stroke:0.08px currentColor">Control style</div>
<div style="position:absolute;left:872.6px;top:373.55px;width:7.4px;height:6.61px;background:#e8e8e8;border:0.7px solid #a8a8a8;border-radius:1px;box-sizing:border-box"></div>
<div style="position:absolute;left:712.8px;top:379.76000000000005px;width:167.7px;height:1px;background:#d6d6d6"></div>
<div class="t" style="left:713.6px;top:383px;font-size:4.8px;color:#2e2e2e;-webkit-text-stroke:0.2px currentColor;-webkit-text-stroke:0.08px currentColor">Class</div>
<div class="t" style="left:797.4px;top:383px;font-size:4.7px;color:#2e2e2e;-webkit-text-stroke:0.2px currentColor;-webkit-text-stroke:0.08px currentColor">nav-link</div>
<div style="position:absolute;left:872.6px;top:381.16px;width:7.4px;height:6.61px;background:#e8e8e8;border:0.7px solid #a8a8a8;border-radius:1px;box-sizing:border-box"></div>
<div style="position:absolute;left:792.5px;top:383.865px;width:2.4px;height:1.4px;background:#888;clip-path:polygon(0 0,100% 0,50% 100%)"></div>
<div style="position:absolute;left:712.8px;top:387.37000000000006px;width:167.7px;height:1px;background:#d6d6d6"></div>
<div style="position:absolute;left:712.8px;top:388.27px;width:167.7px;height:7.61px;background:linear-gradient(#f3f3f3,#e3e3e3)"></div>
<div style="position:absolute;left:714px;top:389.775px;width:4.2px;height:4.6px;background:#fafafa;border:0.6px solid #b0b0b0;box-sizing:border-box"></div>
<div class="t" style="left:720.2px;top:390px;font-size:5.0px;color:#111;-webkit-text-stroke:0.35px currentColor;font-weight:bold">Html Element Properties</div>
<div style="position:absolute;left:712.8px;top:394.98px;width:167.7px;height:1px;background:#d6d6d6"></div>
<div class="t" style="left:713.6px;top:399px;font-size:4.8px;color:#2e2e2e;-webkit-text-stroke:0.2px currentColor;-webkit-text-stroke:0.08px currentColor">Html Element Properties</div>
<div style="position:absolute;left:872.6px;top:396.38px;width:7.4px;height:6.61px;background:#e8e8e8;border:0.7px solid #a8a8a8;border-radius:1px;box-sizing:border-box"></div>
<div style="position:absolute;left:712.8px;top:402.59000000000003px;width:167.7px;height:1px;background:#d6d6d6"></div>
<div style="position:absolute;left:712.8px;top:403.49px;width:167.7px;height:7.61px;background:linear-gradient(#f3f3f3,#e3e3e3)"></div>
<div style="position:absolute;left:714px;top:404.995px;width:4.2px;height:4.6px;background:#fafafa;border:0.6px solid #b0b0b0;box-sizing:border-box"></div>
<div class="t" style="left:720.2px;top:406px;font-size:5.0px;color:#111;-webkit-text-stroke:0.35px currentColor;font-weight:bold">ARIA</div>
<div style="position:absolute;left:712.8px;top:410.20000000000005px;width:167.7px;height:1px;background:#d6d6d6"></div>
<div class="t" style="left:713.6px;top:414px;font-size:4.8px;color:#2e2e2e;-webkit-text-stroke:0.2px currentColor;-webkit-text-stroke:0.08px currentColor">Role</div>
<div style="position:absolute;left:792.5px;top:414.305px;width:2.4px;height:1.4px;background:#888;clip-path:polygon(0 0,100% 0,50% 100%)"></div>
<div style="position:absolute;left:875.3px;top:414.305px;width:2.4px;height:1.4px;background:#888;clip-path:polygon(0 0,100% 0,50% 100%)"></div>
<div style="position:absolute;left:712.8px;top:417.81000000000006px;width:167.7px;height:1px;background:#d6d6d6"></div>
<div class="t" style="left:713.6px;top:421px;font-size:4.8px;color:#2e2e2e;-webkit-text-stroke:0.2px currentColor;-webkit-text-stroke:0.08px currentColor">Label Text</div>
<div style="position:absolute;left:872.6px;top:419.21000000000004px;width:7.4px;height:6.61px;background:#e8e8e8;border:0.7px solid #a8a8a8;border-radius:1px;box-sizing:border-box"></div>
<div style="position:absolute;left:712.8px;top:425.4200000000001px;width:167.7px;height:1px;background:#d6d6d6"></div>
<div class="t" style="left:713.6px;top:429px;font-size:4.8px;color:#2e2e2e;-webkit-text-stroke:0.2px currentColor;-webkit-text-stroke:0.08px currentColor">Labelled By</div>
<div style="position:absolute;left:872.6px;top:426.82px;width:7.4px;height:6.61px;background:#e8e8e8;border:0.7px solid #a8a8a8;border-radius:1px;box-sizing:border-box"></div>
<div style="position:absolute;left:712.8px;top:433.03000000000003px;width:167.7px;height:1px;background:#d6d6d6"></div>
<div class="t" style="left:713.6px;top:437px;font-size:4.8px;color:#2e2e2e;-webkit-text-stroke:0.2px currentColor;-webkit-text-stroke:0.08px currentColor">Described By</div>
<div style="position:absolute;left:872.6px;top:434.43px;width:7.4px;height:6.61px;background:#e8e8e8;border:0.7px solid #a8a8a8;border-radius:1px;box-sizing:border-box"></div>
<div style="position:absolute;left:712.8px;top:440.64000000000004px;width:167.7px;height:1px;background:#d6d6d6"></div>
<div class="t" style="left:713.6px;top:444px;font-size:4.8px;color:#2e2e2e;-webkit-text-stroke:0.2px currentColor;-webkit-text-stroke:0.08px currentColor">Custom Attributes</div>
<div style="position:absolute;left:712.8px;top:448.25000000000006px;width:167.7px;height:1px;background:#d6d6d6"></div>
<div style="position:absolute;left:712.8px;top:449.15px;width:167.7px;height:7.61px;background:linear-gradient(#f3f3f3,#e3e3e3)"></div>
<div style="position:absolute;left:714px;top:450.655px;width:4.2px;height:4.6px;background:#fafafa;border:0.6px solid #b0b0b0;box-sizing:border-box"></div>
<div class="t" style="left:720.2px;top:451px;font-size:5.0px;color:#111;-webkit-text-stroke:0.35px currentColor;font-weight:bold">Events</div>
<div style="position:absolute;left:712.8px;top:455.86px;width:167.7px;height:1px;background:#d6d6d6"></div>
<div class="t" style="left:713.6px;top:459px;font-size:4.8px;color:#2e2e2e;-webkit-text-stroke:0.2px currentColor;-webkit-text-stroke:0.08px currentColor">On Click</div>
<div class="t" style="left:797.4px;top:459px;font-size:4.7px;color:#2e2e2e;-webkit-text-stroke:0.2px currentColor;-webkit-text-stroke:0.08px currentColor">&lt;none&gt;</div>
<div style="position:absolute;left:872.6px;top:457.26px;width:7.4px;height:6.61px;background:#e8e8e8;border:0.7px solid #a8a8a8;border-radius:1px;box-sizing:border-box"></div>
<div style="position:absolute;left:712.8px;top:463.47px;width:167.7px;height:1px;background:#d6d6d6"></div>
<div class="t" style="left:713.6px;top:467px;font-size:4.8px;color:#2e2e2e;-webkit-text-stroke:0.2px currentColor;-webkit-text-stroke:0.08px currentColor">Before Control</div>
<div class="t" style="left:797.4px;top:467px;font-size:4.7px;color:#2e2e2e;-webkit-text-stroke:0.2px currentColor;-webkit-text-stroke:0.08px currentColor">&lt;none&gt;</div>
<div style="position:absolute;left:872.6px;top:464.87px;width:7.4px;height:6.61px;background:#e8e8e8;border:0.7px solid #a8a8a8;border-radius:1px;box-sizing:border-box"></div>
<div style="position:absolute;left:712.8px;top:471.08000000000004px;width:167.7px;height:1px;background:#d6d6d6"></div>
<div style="position:absolute;left:712.8px;top:471.98px;width:167.7px;height:7.61px;background:linear-gradient(#f3f3f3,#e3e3e3)"></div>
<div style="position:absolute;left:714px;top:473.485px;width:4.2px;height:4.6px;background:#fafafa;border:0.6px solid #b0b0b0;box-sizing:border-box"></div>
<div class="t" style="left:720.2px;top:474px;font-size:5.0px;color:#111;-webkit-text-stroke:0.35px currentColor;font-weight:bold">Hyperlink Control</div>
<div style="position:absolute;left:712.8px;top:478.69000000000005px;width:167.7px;height:1px;background:#d6d6d6"></div>
<div class="t" style="left:713.6px;top:482px;font-size:4.8px;color:#2e2e2e;-webkit-text-stroke:0.2px currentColor;-webkit-text-stroke:0.08px currentColor">Link is external</div>
<div style="position:absolute;left:797.4px;top:480.49500000000006px;width:5.4px;height:5.4px;background:#fff;border:0.8px solid #8a8a8a;border-radius:0.5px;box-sizing:border-box"></div>
<div style="position:absolute;left:712.8px;top:486.30000000000007px;width:167.7px;height:1px;background:#d6d6d6"></div>
<div class="t" style="left:713.6px;top:490px;font-size:4.8px;color:#a0a0a0;-webkit-text-stroke:0.2px currentColor;-webkit-text-stroke:0.08px currentColor">External URL</div>
<div style="position:absolute;left:712.8px;top:493.9100000000001px;width:167.7px;height:1px;background:#d6d6d6"></div>
<div class="t" style="left:713.6px;top:498px;font-size:4.8px;color:#a0a0a0;-webkit-text-stroke:0.2px currentColor;-webkit-text-stroke:0.08px currentColor">Hyperlink target window</div>
<div style="position:absolute;left:712.8px;top:501.52000000000004px;width:167.7px;height:1px;background:#d6d6d6"></div>
<div class="t" style="left:713.6px;top:505px;font-size:4.8px;color:#2e2e2e;-webkit-text-stroke:0.2px currentColor;-webkit-text-stroke:0.08px currentColor">Skip validation</div>
<div style="position:absolute;left:797.4px;top:503.32500000000005px;width:5.4px;height:5.4px;background:#fff;border:0.8px solid #8a8a8a;border-radius:0.5px;box-sizing:border-box"></div>
<div style="position:absolute;left:712.8px;top:509.13000000000005px;width:167.7px;height:1px;background:#d6d6d6"></div>
<div style="position:absolute;left:712.8px;top:510.03px;width:167.7px;height:7.61px;background:linear-gradient(#f3f3f3,#e3e3e3)"></div>
<div style="position:absolute;left:714px;top:511.5349999999999px;width:4.2px;height:4.6px;background:#fafafa;border:0.6px solid #b0b0b0;box-sizing:border-box"></div>
<div class="t" style="left:720.2px;top:512px;font-size:5.0px;color:#111;-webkit-text-stroke:0.35px currentColor;font-weight:bold">Texts</div>
<div style="position:absolute;left:712.8px;top:516.74px;width:167.7px;height:1px;background:#d6d6d6"></div>
<div class="t" style="left:713.6px;top:520px;font-size:4.8px;color:#2e2e2e;-webkit-text-stroke:0.2px currentColor;-webkit-text-stroke:0.08px currentColor">Hyperlink text</div>
<div class="t" style="left:797.4px;top:520px;font-size:4.7px;color:#2e2e2e;-webkit-text-stroke:0.2px currentColor;-webkit-text-stroke:0.08px currentColor">About</div>
<div style="position:absolute;left:872.6px;top:518.14px;width:7.4px;height:6.61px;background:#e8e8e8;border:0.7px solid #a8a8a8;border-radius:1px;box-sizing:border-box"></div>
<div style="position:absolute;left:712.8px;top:524.35px;width:167.7px;height:1px;background:#d6d6d6"></div>
<div class="t" style="left:713.6px;top:528px;font-size:4.8px;color:#2e2e2e;-webkit-text-stroke:0.2px currentColor;-webkit-text-stroke:0.08px currentColor">Mouse over text</div>
<div style="position:absolute;left:872.6px;top:525.75px;width:7.4px;height:6.61px;background:#e8e8e8;border:0.7px solid #a8a8a8;border-radius:1px;box-sizing:border-box"></div>
<div style="position:absolute;left:712.8px;top:531.96px;width:167.7px;height:1px;background:#d6d6d6"></div>
<div style="position:absolute;left:796.3px;top:335.0px;width:0.7px;height:197.86px;background:#8a8a8a"></div>
<div style="position:absolute;left:712.8px;top:335.0px;width:167.7px;height:0.8px;background:#c4c4c4"></div>
</div>
<div class="lab" style="left:183.5px;top:34.2px;font-size:12px;letter-spacing:0.206px">Application Layout</div>
<div class="lab" style="left:183.5px;top:51.7px;font-size:12px;letter-spacing:0.221px">properties icon</div>
<div class="lab" style="left:324.1px;top:35.5px;font-size:12px;letter-spacing:0.206px">Application Layout</div>
<div class="lab" style="left:324.1px;top:52.4px;font-size:12px;letter-spacing:0.467px">toolbar</div>
<div class="lab" style="left:480.6px;top:42.2px;font-size:12px;letter-spacing:0.4px">WYSIWYG View</div>
<div class="lab" style="left:633px;top:55.7px;font-size:12px;letter-spacing:0.14px">Fields View</div>
<div class="lab" style="left:737.3px;top:49.6px;font-size:12px;letter-spacing:0.35px">Tables View</div>
<div class="lab" style="left:817.3px;top:79.9px;font-size:12px;letter-spacing:0.115px">Resources View</div>
<div class="lab" style="left:878px;top:110.0px;font-size:12px;letter-spacing:0.211px">Data Connectors View</div>
<div class="lab" style="left:59.1px;top:98.3px;font-size:12px;letter-spacing:0.509px">Main toolbar</div>
<div class="lab" style="left:31.9px;top:282.5px;font-size:12px;letter-spacing:0.555px">Palette View</div>
<div class="lab" style="left:32px;top:439.6px;font-size:12px;letter-spacing:0.455px">Outline View</div>
<div class="lab" style="left:907.4px;top:410.7px;font-size:12px;letter-spacing:0.329px">Properties View</div>
<svg style="position:absolute;left:0;top:0" width="1040" height="573"><path d="M99.7,118.6L139.2,150.7M130.0,149.6L139.2,150.7L136.3,141.9 M242.0,72.5L242.0,169.5M237.0,161.7L242.0,169.5L247.0,161.7 M383.0,74.0L383.0,173.5M378.0,165.7L383.0,173.5L388.0,165.7 M528.0,63.0L528.0,251.8M523.0,244.0L528.0,251.8L533.0,244.0 M648.8,76.5L719.5,180.3M711.0,176.7L719.5,180.3L719.3,171.0 M758.0,72.7L758.0,180.5M753.0,172.7L758.0,180.5L763.0,172.7 M812.7,100.0L793.9,180.7M790.8,172.0L793.9,180.7L800.6,174.2 M887.3,124.3L836.9,181.3M838.3,172.2L836.9,181.3L845.8,178.8 M119.8,289.0L248.9,289.0M241.1,294.0L248.9,289.0L241.1,284.0 M120.5,445.3L249.1,445.3M241.3,450.3L249.1,445.3L241.3,440.3 M897.0,417.0L821.3,417.0M829.1,412.0L821.3,417.0L829.1,422.0" stroke="#222" stroke-width="1.4" fill="none" stroke-linejoin="miter"/></svg>
</body></html>
